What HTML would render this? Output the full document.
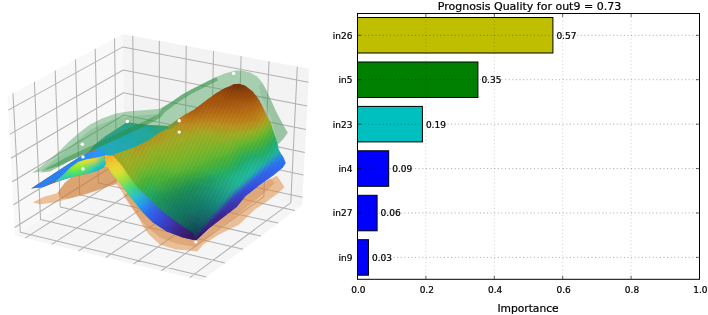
<!DOCTYPE html>
<html lang="en"><head><meta charset="utf-8"><title>Prognosis Quality</title>
<style>html,body{margin:0;padding:0;background:#fff;overflow:hidden}svg{display:block}</style></head>
<body>
<svg width="708" height="315" viewBox="0 0 708 315" font-family="'DejaVu Sans', 'Liberation Sans', sans-serif">
<rect width="708" height="315" fill="#fff"/>
<g id="panes">
<polygon points="15.1,235.6 124.5,166.4 122.7,33.9 7.5,96.4" fill="#f8f8f8"/>
<polygon points="124.5,166.4 302,205.2 309.2,68.8 122.7,33.9" fill="#f3f3f3"/>
<polygon points="15.1,235.6 201.6,280.5 302,205.2 124.5,166.4" fill="#f5f5f5"/>
<path d="M25.2 238.1 L134.1 168.5 L132.8 35.8M51.7 244.4 L159.4 174 L159.3 40.8M78.6 250.9 L185.1 179.6 L186.2 45.8M105.8 257.5 L211 185.3 L213.5 50.9M133.4 264.1 L237.3 191 L241.1 56.1M161.4 270.8 L263.8 196.8 L269 61.3M189.7 277.6 L290.8 202.7 L297.3 66.6M206.4 276.9 L20.3 232.3 L13 93.4M225 262.9 L40.6 219.5 L34.4 81.8M243.2 249.3 L60.3 207 L55.2 70.5M260.9 236 L79.6 194.8 L75.5 59.5M278.1 223.1 L98.3 183 L95.2 48.8M294.9 210.6 L116.6 171.4 L114.5 38.4M14.7 227.5 L124.4 158.7 L302.5 197.2M13.4 204.8 L124.1 137 L303.6 175M12.2 181.8 L123.8 115 L304.8 152.4M10.9 158.3 L123.5 92.7 L306 129.4M9.6 134.4 L123.2 70 L307.2 106M8.3 110.1 L122.9 46.9 L308.5 82.2" fill="none" stroke="#b2b2b2" stroke-width="1.05" stroke-linejoin="round"/>
</g>
<defs><filter id="bl" x="-5%" y="-5%" width="110%" height="110%"><feGaussianBlur stdDeviation="1.3"/></filter></defs>
<g id="surf">
<pattern id="st" width="3.6" height="8" patternUnits="userSpaceOnUse" patternTransform="rotate(24)"><rect width="1.5" height="8" fill="#000" fill-opacity="0.045"/></pattern>
<polygon points="32.6,202.4 44.1,196.7 57,193.2 60.1,189.2 64.7,183.1 70.8,177.8 78.4,174.7 95.2,172 104,166 112,166 120,172 160,180 230,200 276.9,175.7 280.9,181.6 284.4,187.2 278.9,192.5 267,201.4 255.1,209.3 238.8,224.7 219,234.5 203.2,244.4 197.2,251.4 189.3,250.4 175.5,249.4 159.7,244.4 149,234.4 143,226.5 139.1,218.6 133.2,208.7 125.3,196.9 117,184.5 110.8,185.3 101.3,189.1 87.9,193.8 72.7,197.7 53.6,202.4 40.3,204.3" fill="#e0883a" fill-opacity="0.5"/>
<polygon points="58,193 60.1,189.2 64.7,183.1 70.8,177.8 78.4,174.7 95.2,172 104,166 112,168 118.4,177.6 116.5,183.3 108.9,186.2 97.5,190 82.2,194.8 68.9,198.6 61.2,198.6" fill="#c07030" fill-opacity="0.36"/>
<polygon points="123,195 130,206 138,217 148,228 161,238 178,244 195,247 203,241 215,231 232,219 248,206 262,195 275,183 270,178 245,196.5 222.9,217.7 196.2,240.5 166.8,231.5 143,212.7 127.2,192.9" fill="#c87838" fill-opacity="0.3"/>
<polygon points="32,173 39.8,167.3 49.7,159.4 60,150.5 69.3,141.2 79.5,132.6 90,124.5 102,118.5 116,113.5 128,111.5 146,110 158,109 161.6,108.1 171.8,101.8 181.9,94.8 190.8,89.7 199.7,85.3 208.6,80.8 216.3,77 223.9,73.8 230,71.9 235.1,70.4 241.9,70.6 250.8,72.8 257.2,76.6 262.5,83 266.3,90 269,96 272,102.5 275.8,110.8 279.5,118 282.5,123.5 285,128 287.8,132.7 282.8,139.6 278.9,143.6 275.3,144 260,140 230,120 180,140 110,150 83,156 71.4,159.9 59.5,165.8 39.8,171.8" fill="#3c9a50" fill-opacity="0.42"/>
<polygon points="261.9,97.7 266.9,107.9 270.8,116.8 273.3,125 277,144.5 278.9,143.6 282.8,139.6 287.8,132.7 285,128 282.5,123.5 279.5,118 275.8,110.8 272,102.5 269,96 266.3,90 262.5,83 258.5,86" fill="#4a7a5a" fill-opacity="0.12"/>
<polygon points="40,171 50,163.5 61,155 71,146 81,137.5 91,129.5 103,123.5 116,118.5 128,116.5 146,115 158,114 150,122 130,132 107,143 84,153.5 71.4,159.9 59.5,165.8" fill="#3c9a50" fill-opacity="0.2"/>
<clipPath id="c1"><polygon points="31.1,188.5 40.3,182.4 55.5,172.5 70.8,162.5 83,154.9 90.5,150.4 92,148.1 98.1,142 105.8,135.9 118,128.3 127.1,122.2 136.3,123.7 151.5,125.3 168,126 174,122 184,115 193.4,110 201,104.3 208.6,98.6 216.3,92.9 223.9,88.4 230,85.9 233.2,84.3 239.1,83.7 245,85.6 252.9,91.6 258.9,99.5 263,107 267,116 270,120.8 273.9,132.7 277.9,144.5 278.9,150 283.8,157.9 285.8,162.9 282.8,167.8 272.9,175.7 259.1,185.6 245.3,196.5 236.8,206.9 222.9,217.7 209.1,228.6 196.2,240.5 182.6,237.4 166.8,231.5 152.9,222.6 143,212.7 135.1,202.8 127.2,192.9 121.3,185 119.6,183.1 111.9,174 105.8,164.8 102.8,167.9 95.2,171.7 86,174 75.3,176.3 64.7,179.3 55.5,182.4 43.3,187"/></clipPath><g clip-path="url(#c1)"><g filter="url(#bl)"><path fill="#783008" d="M231 82h15.4v3.4h-15.4z"/>
<path fill="#843c0c" d="M222 85h3.4v3.4h-3.4zM234 88h6.4v3.4h-6.4z"/>
<path fill="#84380c" d="M225 85h3.4v3.4h-3.4z"/>
<path fill="#803808" d="M228 85h3.4v3.4h-3.4zM243 85h3.4v3.4h-3.4z"/>
<path fill="#803408" d="M231 85h3.4v3.4h-3.4z"/>
<path fill="#7c3408" d="M234 85h9.4v3.4h-9.4z"/>
<path fill="#843808" d="M246 85h3.4v3.4h-3.4z"/>
<path fill="#90440c" d="M219 88h3.4v3.4h-3.4zM231 91h15.4v3.4h-15.4zM249 91h3.4v3.4h-3.4z"/>
<path fill="#90400c" d="M222 88h3.4v3.4h-3.4z"/>
<path fill="#8c400c" d="M225 88h6.4v3.4h-6.4zM246 88h6.4v3.4h-6.4z"/>
<path fill="#883c0c" d="M231 88h3.4v3.4h-3.4zM240 88h3.4v3.4h-3.4z"/>
<path fill="#88400c" d="M243 88h3.4v3.4h-3.4z"/>
<path fill="#98480c" d="M213 91h12.4v3.4h-12.4zM234 94h6.4v3.4h-6.4z"/>
<path fill="#94480c" d="M225 91h3.4v3.4h-3.4z"/>
<path fill="#94440c" d="M228 91h3.4v3.4h-3.4zM246 91h3.4v3.4h-3.4zM252 91h3.4v3.4h-3.4z"/>
<path fill="#a05010" d="M210 94h12.4v3.4h-12.4zM225 97h27.4v3.4h-27.4z"/>
<path fill="#9c4c10" d="M222 94h9.4v3.4h-9.4zM255 94h3.4v3.4h-3.4z"/>
<path fill="#984c0c" d="M231 94h3.4v3.4h-3.4zM240 94h15.4v3.4h-15.4z"/>
<path fill="#a45410" d="M204 97h18.4v3.4h-18.4zM252 97h6.4v3.4h-6.4zM201 100h3.4v3.4h-3.4z"/>
<path fill="#a05410" d="M222 97h3.4v3.4h-3.4z"/>
<path fill="#a85c10" d="M258 97h3.4v3.4h-3.4zM252 100h3.4v3.4h-3.4zM201 103h6.4v3.4h-6.4zM210 103h21.4v3.4h-21.4zM195 106h3.4v3.4h-3.4zM54 169h3.4v3.4h-3.4zM51 172h3.4v3.4h-3.4zM42 178h3.4v3.4h-3.4zM39 181h3.4v3.4h-3.4zM30 187h3.4v3.4h-3.4z"/>
<path fill="#a85810" d="M204 100h12.4v3.4h-12.4zM237 100h15.4v3.4h-15.4zM198 103h3.4v3.4h-3.4zM192 106h3.4v3.4h-3.4zM45 175h3.4v3.4h-3.4zM36 181h3.4v3.4h-3.4zM33 184h3.4v3.4h-3.4zM27 187h3.4v3.4h-3.4z"/>
<path fill="#a45810" d="M216 100h21.4v3.4h-21.4z"/>
<path fill="#ac6014" d="M255 100h3.4v3.4h-3.4zM240 103h9.4v3.4h-9.4zM201 106h6.4v3.4h-6.4zM210 106h15.4v3.4h-15.4zM192 109h3.4v3.4h-3.4zM72 157h3.4v3.4h-3.4zM69 160h3.4v3.4h-3.4zM66 163h3.4v3.4h-3.4zM63 166h3.4v3.4h-3.4zM60 169h3.4v3.4h-3.4zM54 172h3.4v3.4h-3.4zM51 175h3.4v3.4h-3.4zM48 178h3.4v3.4h-3.4zM45 181h3.4v3.4h-3.4zM39 184h3.4v3.4h-3.4zM36 187h3.4v3.4h-3.4z"/>
<path fill="#b06414" d="M258 100h3.4v3.4h-3.4zM252 103h3.4v3.4h-3.4zM231 106h15.4v3.4h-15.4zM198 109h3.4v3.4h-3.4zM78 154h3.4v3.4h-3.4zM75 157h3.4v3.4h-3.4zM72 160h6.4v3.4h-6.4zM69 163h6.4v3.4h-6.4zM66 166h6.4v3.4h-6.4zM63 169h3.4v3.4h-3.4zM60 172h3.4v3.4h-3.4zM57 175h3.4v3.4h-3.4zM51 178h6.4v3.4h-6.4zM48 181h3.4v3.4h-3.4zM45 184h3.4v3.4h-3.4zM39 187h6.4v3.4h-6.4z"/>
<path fill="#ac5c10" d="M207 103h3.4v3.4h-3.4zM231 103h3.4v3.4h-3.4zM63 163h3.4v3.4h-3.4zM48 175h3.4v3.4h-3.4zM36 184h3.4v3.4h-3.4z"/>
<path fill="#ac5c14" d="M234 103h6.4v3.4h-6.4zM198 106h3.4v3.4h-3.4zM189 109h3.4v3.4h-3.4zM60 166h3.4v3.4h-3.4zM57 169h3.4v3.4h-3.4zM45 178h3.4v3.4h-3.4zM42 181h3.4v3.4h-3.4zM33 187h3.4v3.4h-3.4z"/>
<path fill="#b06014" d="M249 103h3.4v3.4h-3.4zM207 106h3.4v3.4h-3.4zM225 106h6.4v3.4h-6.4zM195 109h3.4v3.4h-3.4zM57 172h3.4v3.4h-3.4zM54 175h3.4v3.4h-3.4zM42 184h3.4v3.4h-3.4z"/>
<path fill="#b46414" d="M255 103h3.4v3.4h-3.4zM201 109h3.4v3.4h-3.4zM78 157h3.4v3.4h-3.4zM66 169h3.4v3.4h-3.4zM51 181h3.4v3.4h-3.4z"/>
<path fill="#b46814" d="M258 103h3.4v3.4h-3.4zM246 106h9.4v3.4h-9.4zM204 109h36.4v3.4h-36.4zM183 112h15.4v3.4h-15.4zM87 148h3.4v3.4h-3.4zM84 151h3.4v3.4h-3.4zM81 154h3.4v3.4h-3.4zM81 157h3.4v3.4h-3.4zM78 160h3.4v3.4h-3.4zM75 163h3.4v3.4h-3.4zM72 166h3.4v3.4h-3.4zM69 169h3.4v3.4h-3.4zM63 172h6.4v3.4h-6.4zM60 175h6.4v3.4h-6.4zM57 178h3.4v3.4h-3.4zM54 181h3.4v3.4h-3.4zM48 184h6.4v3.4h-6.4z"/>
<path fill="#b87018" d="M261 103h3.4v3.4h-3.4zM258 106h3.4v3.4h-3.4zM252 109h3.4v3.4h-3.4zM207 112h3.4v3.4h-3.4zM222 112h24.4v3.4h-24.4zM186 115h9.4v3.4h-9.4zM96 139h3.4v3.4h-3.4zM93 145h3.4v3.4h-3.4zM90 151h3.4v3.4h-3.4zM90 154h3.4v3.4h-3.4zM87 157h3.4v3.4h-3.4zM84 160h3.4v3.4h-3.4zM81 163h6.4v3.4h-6.4zM78 166h6.4v3.4h-6.4zM75 169h6.4v3.4h-6.4zM72 172h3.4v3.4h-3.4zM69 175h3.4v3.4h-3.4zM66 178h3.4v3.4h-3.4z"/>
<path fill="#b86c14" d="M255 106h3.4v3.4h-3.4zM240 109h12.4v3.4h-12.4zM198 112h9.4v3.4h-9.4zM210 112h12.4v3.4h-12.4zM93 142h3.4v3.4h-3.4zM90 145h3.4v3.4h-3.4zM90 148h3.4v3.4h-3.4zM87 151h3.4v3.4h-3.4zM87 154h3.4v3.4h-3.4zM84 157h3.4v3.4h-3.4zM81 160h3.4v3.4h-3.4zM78 163h3.4v3.4h-3.4zM75 166h3.4v3.4h-3.4zM72 169h3.4v3.4h-3.4zM69 172h3.4v3.4h-3.4zM66 175h3.4v3.4h-3.4zM60 178h6.4v3.4h-6.4zM57 181h3.4v3.4h-3.4z"/>
<path fill="#bc7818" d="M261 106h3.4v3.4h-3.4zM258 109h3.4v3.4h-3.4zM252 112h3.4v3.4h-3.4zM177 115h3.4v3.4h-3.4zM201 115h45.4v3.4h-45.4zM126 121h12.4v3.4h-12.4zM108 130h3.4v3.4h-3.4zM102 136h3.4v3.4h-3.4zM99 139h3.4v3.4h-3.4zM99 142h3.4v3.4h-3.4zM96 148h3.4v3.4h-3.4zM96 151h3.4v3.4h-3.4zM93 157h3.4v3.4h-3.4zM90 160h3.4v3.4h-3.4zM90 163h3.4v3.4h-3.4zM87 166h3.4v3.4h-3.4zM84 169h3.4v3.4h-3.4zM81 172h3.4v3.4h-3.4zM75 175h6.4v3.4h-6.4z"/>
<path fill="#b87418" d="M255 109h3.4v3.4h-3.4zM246 112h6.4v3.4h-6.4zM180 115h6.4v3.4h-6.4zM195 115h6.4v3.4h-6.4zM96 142h3.4v3.4h-3.4zM93 148h3.4v3.4h-3.4zM93 151h3.4v3.4h-3.4zM90 157h3.4v3.4h-3.4zM87 160h3.4v3.4h-3.4zM75 172h3.4v3.4h-3.4zM72 175h3.4v3.4h-3.4zM69 178h3.4v3.4h-3.4z"/>
<path fill="#bc801c" d="M261 109h3.4v3.4h-3.4zM258 112h3.4v3.4h-3.4zM252 115h6.4v3.4h-6.4zM177 118h6.4v3.4h-6.4zM195 118h54.4v3.4h-54.4zM132 124h12.4v3.4h-12.4zM117 127h9.4v3.4h-9.4zM111 130h6.4v3.4h-6.4zM108 133h3.4v3.4h-3.4zM105 136h3.4v3.4h-3.4zM102 142h3.4v3.4h-3.4zM102 145h3.4v3.4h-3.4zM99 154h3.4v3.4h-3.4zM99 157h3.4v3.4h-3.4zM96 160h3.4v3.4h-3.4zM96 163h3.4v3.4h-3.4zM93 166h3.4v3.4h-3.4zM90 169h3.4v3.4h-3.4zM87 172h3.4v3.4h-3.4z"/>
<path fill="#bc841c" d="M264 109h3.4v3.4h-3.4zM261 112h3.4v3.4h-3.4zM174 118h3.4v3.4h-3.4zM249 118h6.4v3.4h-6.4zM144 124h6.4v3.4h-6.4zM126 127h18.4v3.4h-18.4zM117 130h3.4v3.4h-3.4zM111 133h3.4v3.4h-3.4zM108 136h3.4v3.4h-3.4zM105 139h3.4v3.4h-3.4zM105 142h3.4v3.4h-3.4zM102 148h3.4v3.4h-3.4zM102 151h3.4v3.4h-3.4zM102 154h3.4v3.4h-3.4zM102 157h3.4v3.4h-3.4zM99 160h3.4v3.4h-3.4zM99 163h3.4v3.4h-3.4zM96 166h3.4v3.4h-3.4zM93 169h3.4v3.4h-3.4zM90 172h3.4v3.4h-3.4z"/>
<path fill="#bc7c18" d="M255 112h3.4v3.4h-3.4zM246 115h6.4v3.4h-6.4zM186 118h6.4v3.4h-6.4zM138 121h3.4v3.4h-3.4zM120 124h6.4v3.4h-6.4zM114 127h3.4v3.4h-3.4zM105 133h3.4v3.4h-3.4zM99 145h3.4v3.4h-3.4zM96 154h3.4v3.4h-3.4zM93 160h3.4v3.4h-3.4z"/>
<path fill="#bc8c20" d="M264 112h3.4v3.4h-3.4zM261 115h3.4v3.4h-3.4zM258 118h3.4v3.4h-3.4zM174 121h3.4v3.4h-3.4zM198 121h21.4v3.4h-21.4zM246 121h6.4v3.4h-6.4zM153 124h6.4v3.4h-6.4zM150 127h6.4v3.4h-6.4zM144 130h6.4v3.4h-6.4zM117 133h30.4v3.4h-30.4zM114 136h3.4v3.4h-3.4zM108 142h3.4v3.4h-3.4zM105 157h3.4v3.4h-3.4zM105 160h3.4v3.4h-3.4zM105 163h3.4v3.4h-3.4zM102 166h3.4v3.4h-3.4zM99 169h3.4v3.4h-3.4z"/>
<path fill="#bc881c" d="M258 115h3.4v3.4h-3.4zM255 118h3.4v3.4h-3.4zM177 121h21.4v3.4h-21.4zM219 121h27.4v3.4h-27.4zM150 124h3.4v3.4h-3.4zM144 127h6.4v3.4h-6.4zM120 130h24.4v3.4h-24.4zM114 133h3.4v3.4h-3.4zM111 136h3.4v3.4h-3.4zM108 139h3.4v3.4h-3.4zM105 145h3.4v3.4h-3.4zM105 148h3.4v3.4h-3.4zM105 151h3.4v3.4h-3.4zM105 154h3.4v3.4h-3.4zM102 160h3.4v3.4h-3.4zM102 163h3.4v3.4h-3.4zM99 166h3.4v3.4h-3.4zM96 169h3.4v3.4h-3.4zM93 172h3.4v3.4h-3.4z"/>
<path fill="#b89420" d="M264 115h3.4v3.4h-3.4zM198 124h12.4v3.4h-12.4zM249 124h3.4v3.4h-3.4zM159 127h3.4v3.4h-3.4zM132 139h3.4v3.4h-3.4z"/>
<path fill="#b0a024" d="M267 115h3.4v3.4h-3.4zM264 118h3.4v3.4h-3.4zM261 121h3.4v3.4h-3.4zM165 127h9.4v3.4h-9.4zM195 127h18.4v3.4h-18.4zM246 127h3.4v3.4h-3.4zM177 130h9.4v3.4h-9.4zM162 133h3.4v3.4h-3.4zM162 136h3.4v3.4h-3.4zM153 139h6.4v3.4h-6.4zM117 142h6.4v3.4h-6.4zM126 142h3.4v3.4h-3.4zM147 142h3.4v3.4h-3.4zM114 145h3.4v3.4h-3.4zM132 145h3.4v3.4h-3.4zM114 160h3.4v3.4h-3.4zM114 163h3.4v3.4h-3.4zM111 169h3.4v3.4h-3.4z"/>
<path fill="#bc7c1c" d="M183 118h3.4v3.4h-3.4zM192 118h3.4v3.4h-3.4zM141 121h3.4v3.4h-3.4zM126 124h6.4v3.4h-6.4zM102 139h3.4v3.4h-3.4zM99 148h3.4v3.4h-3.4zM99 151h3.4v3.4h-3.4zM96 157h3.4v3.4h-3.4zM93 163h3.4v3.4h-3.4zM90 166h3.4v3.4h-3.4zM87 169h3.4v3.4h-3.4zM84 172h3.4v3.4h-3.4zM81 175h3.4v3.4h-3.4z"/>
<path fill="#bc9420" d="M261 118h3.4v3.4h-3.4zM174 124h3.4v3.4h-3.4zM192 124h6.4v3.4h-6.4zM210 124h24.4v3.4h-24.4zM240 124h9.4v3.4h-9.4zM156 130h3.4v3.4h-3.4zM153 133h3.4v3.4h-3.4zM120 136h12.4v3.4h-12.4zM147 136h3.4v3.4h-3.4zM114 139h3.4v3.4h-3.4zM135 139h9.4v3.4h-9.4zM111 142h3.4v3.4h-3.4zM108 163h3.4v3.4h-3.4z"/>
<path fill="#a4ac28" d="M267 118h3.4v3.4h-3.4zM261 124h3.4v3.4h-3.4zM246 130h3.4v3.4h-3.4zM192 133h6.4v3.4h-6.4zM174 136h12.4v3.4h-12.4zM168 139h6.4v3.4h-6.4zM165 142h3.4v3.4h-3.4zM150 145h3.4v3.4h-3.4zM123 148h3.4v3.4h-3.4zM117 151h3.4v3.4h-3.4zM126 151h3.4v3.4h-3.4zM117 154h3.4v3.4h-3.4zM129 154h12.4v3.4h-12.4zM120 160h3.4v3.4h-3.4zM120 163h3.4v3.4h-3.4zM120 166h3.4v3.4h-3.4zM120 169h3.4v3.4h-3.4zM117 172h3.4v3.4h-3.4zM114 175h3.4v3.4h-3.4z"/>
<path fill="#98b028" d="M270 118h3.4v3.4h-3.4zM267 121h3.4v3.4h-3.4zM264 124h3.4v3.4h-3.4zM243 133h3.4v3.4h-3.4zM201 136h30.4v3.4h-30.4zM189 139h6.4v3.4h-6.4zM180 142h6.4v3.4h-6.4zM171 145h6.4v3.4h-6.4zM153 148h15.4v3.4h-15.4zM150 151h3.4v3.4h-3.4zM147 154h3.4v3.4h-3.4zM144 157h3.4v3.4h-3.4zM138 160h3.4v3.4h-3.4zM132 163h3.4v3.4h-3.4zM129 166h3.4v3.4h-3.4zM126 169h3.4v3.4h-3.4zM120 175h3.4v3.4h-3.4zM117 178h3.4v3.4h-3.4z"/>
<path fill="#bc7418" d="M123 121h3.4v3.4h-3.4zM96 145h3.4v3.4h-3.4zM93 154h3.4v3.4h-3.4zM87 163h3.4v3.4h-3.4zM84 166h3.4v3.4h-3.4zM81 169h3.4v3.4h-3.4zM78 172h3.4v3.4h-3.4z"/>
<path fill="#bc9020" d="M171 121h3.4v3.4h-3.4zM252 121h6.4v3.4h-6.4zM159 124h3.4v3.4h-3.4zM177 124h15.4v3.4h-15.4zM234 124h6.4v3.4h-6.4zM156 127h3.4v3.4h-3.4zM150 130h6.4v3.4h-6.4zM147 133h6.4v3.4h-6.4zM117 136h3.4v3.4h-3.4zM132 136h15.4v3.4h-15.4zM111 139h3.4v3.4h-3.4zM108 145h3.4v3.4h-3.4zM108 148h3.4v3.4h-3.4zM108 151h3.4v3.4h-3.4zM108 154h3.4v3.4h-3.4zM108 157h3.4v3.4h-3.4zM108 160h3.4v3.4h-3.4zM105 166h3.4v3.4h-3.4z"/>
<path fill="#b89820" d="M258 121h3.4v3.4h-3.4zM162 124h3.4v3.4h-3.4zM171 124h3.4v3.4h-3.4zM180 127h6.4v3.4h-6.4zM159 130h3.4v3.4h-3.4zM156 133h3.4v3.4h-3.4zM150 136h6.4v3.4h-6.4zM117 139h3.4v3.4h-3.4zM129 139h3.4v3.4h-3.4zM144 139h3.4v3.4h-3.4zM135 142h9.4v3.4h-9.4zM111 145h3.4v3.4h-3.4zM108 166h3.4v3.4h-3.4z"/>
<path fill="#a4a828" d="M264 121h3.4v3.4h-3.4zM255 127h3.4v3.4h-3.4zM243 130h3.4v3.4h-3.4zM189 133h3.4v3.4h-3.4zM171 136h3.4v3.4h-3.4zM162 142h3.4v3.4h-3.4zM117 148h3.4v3.4h-3.4zM126 148h3.4v3.4h-3.4zM129 151h3.4v3.4h-3.4zM141 151h3.4v3.4h-3.4z"/>
<path fill="#88b42c" d="M270 121h3.4v3.4h-3.4zM267 124h3.4v3.4h-3.4zM252 133h3.4v3.4h-3.4zM243 136h3.4v3.4h-3.4zM231 139h3.4v3.4h-3.4zM207 142h15.4v3.4h-15.4zM195 145h6.4v3.4h-6.4zM189 148h6.4v3.4h-6.4zM180 151h6.4v3.4h-6.4zM168 154h9.4v3.4h-9.4zM153 157h6.4v3.4h-6.4zM150 160h3.4v3.4h-3.4zM144 163h3.4v3.4h-3.4zM138 166h3.4v3.4h-3.4zM132 172h3.4v3.4h-3.4zM129 175h3.4v3.4h-3.4zM120 181h3.4v3.4h-3.4z"/>
<path fill="#b49824" d="M165 124h3.4v3.4h-3.4zM177 127h3.4v3.4h-3.4zM186 127h3.4v3.4h-3.4zM159 133h3.4v3.4h-3.4zM156 136h3.4v3.4h-3.4zM126 139h3.4v3.4h-3.4zM147 139h3.4v3.4h-3.4zM114 142h3.4v3.4h-3.4zM111 148h3.4v3.4h-3.4zM111 154h3.4v3.4h-3.4zM111 163h3.4v3.4h-3.4zM108 169h3.4v3.4h-3.4z"/>
<path fill="#b49c24" d="M168 124h3.4v3.4h-3.4zM162 127h3.4v3.4h-3.4zM174 127h3.4v3.4h-3.4zM189 127h3.4v3.4h-3.4zM216 127h27.4v3.4h-27.4zM159 136h3.4v3.4h-3.4zM120 139h6.4v3.4h-6.4zM150 139h3.4v3.4h-3.4zM132 142h3.4v3.4h-3.4zM144 142h3.4v3.4h-3.4zM138 145h3.4v3.4h-3.4zM111 151h3.4v3.4h-3.4zM111 166h3.4v3.4h-3.4zM108 172h3.4v3.4h-3.4z"/>
<path fill="#b89824" d="M252 124h3.4v3.4h-3.4zM111 157h3.4v3.4h-3.4zM111 160h3.4v3.4h-3.4z"/>
<path fill="#b09c24" d="M255 124h3.4v3.4h-3.4zM192 127h3.4v3.4h-3.4zM213 127h3.4v3.4h-3.4zM243 127h3.4v3.4h-3.4zM162 130h3.4v3.4h-3.4zM129 142h3.4v3.4h-3.4zM135 145h3.4v3.4h-3.4zM141 145h3.4v3.4h-3.4z"/>
<path fill="#aca424" d="M258 124h3.4v3.4h-3.4zM168 130h6.4v3.4h-6.4zM189 130h3.4v3.4h-3.4zM165 133h3.4v3.4h-3.4zM165 136h3.4v3.4h-3.4zM162 139h3.4v3.4h-3.4zM150 142h3.4v3.4h-3.4zM117 145h3.4v3.4h-3.4zM129 145h3.4v3.4h-3.4zM144 145h3.4v3.4h-3.4zM114 148h3.4v3.4h-3.4zM132 148h3.4v3.4h-3.4zM141 148h3.4v3.4h-3.4zM114 151h3.4v3.4h-3.4zM114 154h3.4v3.4h-3.4zM114 169h3.4v3.4h-3.4z"/>
<path fill="#78b82c" d="M270 124h3.4v3.4h-3.4zM252 136h3.4v3.4h-3.4zM243 139h3.4v3.4h-3.4zM234 142h3.4v3.4h-3.4zM225 145h3.4v3.4h-3.4zM210 148h6.4v3.4h-6.4zM201 151h6.4v3.4h-6.4zM192 154h6.4v3.4h-6.4zM183 157h6.4v3.4h-6.4zM177 160h3.4v3.4h-3.4zM156 163h3.4v3.4h-3.4zM150 166h3.4v3.4h-3.4zM141 169h3.4v3.4h-3.4zM123 184h3.4v3.4h-3.4zM120 187h3.4v3.4h-3.4z"/>
<path fill="#aca024" d="M249 127h3.4v3.4h-3.4zM165 130h3.4v3.4h-3.4zM174 130h3.4v3.4h-3.4zM186 130h3.4v3.4h-3.4zM159 139h3.4v3.4h-3.4zM123 142h3.4v3.4h-3.4zM135 148h6.4v3.4h-6.4zM114 157h3.4v3.4h-3.4zM114 166h3.4v3.4h-3.4zM111 172h3.4v3.4h-3.4z"/>
<path fill="#a8a424" d="M252 127h3.4v3.4h-3.4zM192 130h3.4v3.4h-3.4zM216 130h21.4v3.4h-21.4zM168 133h3.4v3.4h-3.4zM177 133h6.4v3.4h-6.4zM153 142h3.4v3.4h-3.4zM126 145h3.4v3.4h-3.4zM111 175h3.4v3.4h-3.4z"/>
<path fill="#a0b028" d="M258 127h3.4v3.4h-3.4zM249 130h3.4v3.4h-3.4zM201 133h9.4v3.4h-9.4zM228 133h9.4v3.4h-9.4zM189 136h3.4v3.4h-3.4zM177 139h6.4v3.4h-6.4zM168 142h6.4v3.4h-6.4zM159 145h6.4v3.4h-6.4zM147 148h3.4v3.4h-3.4zM120 151h6.4v3.4h-6.4zM120 154h9.4v3.4h-9.4zM123 157h9.4v3.4h-9.4zM135 157h6.4v3.4h-6.4zM123 160h9.4v3.4h-9.4zM126 163h3.4v3.4h-3.4zM123 166h3.4v3.4h-3.4zM123 169h3.4v3.4h-3.4zM120 172h3.4v3.4h-3.4zM117 175h3.4v3.4h-3.4zM114 178h3.4v3.4h-3.4z"/>
<path fill="#94b428" d="M261 127h3.4v3.4h-3.4zM246 133h3.4v3.4h-3.4zM198 139h6.4v3.4h-6.4zM189 142h3.4v3.4h-3.4zM180 145h3.4v3.4h-3.4zM174 148h3.4v3.4h-3.4zM153 151h9.4v3.4h-9.4zM150 154h3.4v3.4h-3.4zM147 157h3.4v3.4h-3.4zM144 160h3.4v3.4h-3.4zM132 166h3.4v3.4h-3.4zM123 175h3.4v3.4h-3.4zM120 178h3.4v3.4h-3.4z"/>
<path fill="#84b42c" d="M264 127h3.4v3.4h-3.4zM234 139h3.4v3.4h-3.4zM222 142h3.4v3.4h-3.4zM201 145h6.4v3.4h-6.4zM186 151h3.4v3.4h-3.4zM177 154h3.4v3.4h-3.4zM159 157h6.4v3.4h-6.4zM147 163h3.4v3.4h-3.4zM135 169h3.4v3.4h-3.4zM126 178h3.4v3.4h-3.4z"/>
<path fill="#74b82c" d="M267 127h3.4v3.4h-3.4zM228 145h3.4v3.4h-3.4zM216 148h3.4v3.4h-3.4zM198 154h3.4v3.4h-3.4zM189 157h3.4v3.4h-3.4zM180 160h3.4v3.4h-3.4zM159 163h3.4v3.4h-3.4zM165 163h6.4v3.4h-6.4z"/>
<path fill="#68b834" d="M270 127h3.4v3.4h-3.4zM252 139h3.4v3.4h-3.4zM243 142h3.4v3.4h-3.4zM222 151h3.4v3.4h-3.4zM204 157h3.4v3.4h-3.4zM186 163h3.4v3.4h-3.4zM144 172h3.4v3.4h-3.4zM126 187h3.4v3.4h-3.4z"/>
<path fill="#58b438" d="M273 127h3.4v3.4h-3.4zM270 130h3.4v3.4h-3.4zM267 133h3.4v3.4h-3.4zM258 139h3.4v3.4h-3.4zM252 142h3.4v3.4h-3.4zM243 145h3.4v3.4h-3.4zM231 151h3.4v3.4h-3.4zM225 154h3.4v3.4h-3.4zM216 157h3.4v3.4h-3.4zM207 160h3.4v3.4h-3.4zM201 163h3.4v3.4h-3.4zM192 166h3.4v3.4h-3.4zM183 169h3.4v3.4h-3.4zM159 172h18.4v3.4h-18.4zM147 175h3.4v3.4h-3.4zM141 178h3.4v3.4h-3.4zM138 181h3.4v3.4h-3.4z"/>
<path fill="#a8a824" d="M195 130h6.4v3.4h-6.4zM207 130h9.4v3.4h-9.4zM237 130h3.4v3.4h-3.4zM171 133h6.4v3.4h-6.4zM183 133h3.4v3.4h-3.4zM156 142h3.4v3.4h-3.4zM123 145h3.4v3.4h-3.4zM129 148h3.4v3.4h-3.4zM132 151h9.4v3.4h-9.4zM117 160h3.4v3.4h-3.4zM117 163h3.4v3.4h-3.4zM117 166h3.4v3.4h-3.4zM114 172h3.4v3.4h-3.4z"/>
<path fill="#a8a828" d="M201 130h6.4v3.4h-6.4zM240 130h3.4v3.4h-3.4zM186 133h3.4v3.4h-3.4zM168 136h3.4v3.4h-3.4zM165 139h3.4v3.4h-3.4zM159 142h3.4v3.4h-3.4zM120 145h3.4v3.4h-3.4zM147 145h3.4v3.4h-3.4zM144 148h3.4v3.4h-3.4zM117 157h3.4v3.4h-3.4zM117 169h3.4v3.4h-3.4z"/>
<path fill="#9cb028" d="M252 130h3.4v3.4h-3.4zM237 133h6.4v3.4h-6.4zM192 136h9.4v3.4h-9.4zM183 139h6.4v3.4h-6.4zM174 142h6.4v3.4h-6.4zM165 145h6.4v3.4h-6.4zM150 148h3.4v3.4h-3.4zM147 151h3.4v3.4h-3.4zM144 154h3.4v3.4h-3.4zM141 157h3.4v3.4h-3.4zM132 160h6.4v3.4h-6.4zM129 163h3.4v3.4h-3.4zM126 166h3.4v3.4h-3.4zM123 172h3.4v3.4h-3.4z"/>
<path fill="#94b028" d="M255 130h3.4v3.4h-3.4zM231 136h3.4v3.4h-3.4zM195 139h3.4v3.4h-3.4zM186 142h3.4v3.4h-3.4zM177 145h3.4v3.4h-3.4zM168 148h6.4v3.4h-6.4zM141 160h3.4v3.4h-3.4zM135 163h3.4v3.4h-3.4zM129 169h3.4v3.4h-3.4zM126 172h3.4v3.4h-3.4z"/>
<path fill="#8cb42c" d="M258 130h3.4v3.4h-3.4zM240 136h3.4v3.4h-3.4zM225 139h6.4v3.4h-6.4zM198 142h9.4v3.4h-9.4zM189 145h6.4v3.4h-6.4zM183 148h6.4v3.4h-6.4zM174 151h6.4v3.4h-6.4zM156 154h12.4v3.4h-12.4zM150 157h3.4v3.4h-3.4zM147 160h3.4v3.4h-3.4zM141 163h3.4v3.4h-3.4zM135 166h3.4v3.4h-3.4zM132 169h3.4v3.4h-3.4zM123 178h3.4v3.4h-3.4z"/>
<path fill="#80b82c" d="M261 130h3.4v3.4h-3.4zM237 139h3.4v3.4h-3.4zM228 142h3.4v3.4h-3.4zM210 145h9.4v3.4h-9.4zM198 148h6.4v3.4h-6.4zM192 151h3.4v3.4h-3.4zM183 154h6.4v3.4h-6.4zM174 157h6.4v3.4h-6.4zM156 160h3.4v3.4h-3.4zM150 163h3.4v3.4h-3.4zM144 166h3.4v3.4h-3.4zM132 175h3.4v3.4h-3.4zM120 184h3.4v3.4h-3.4z"/>
<path fill="#74b830" d="M264 130h3.4v3.4h-3.4zM219 148h3.4v3.4h-3.4zM207 151h3.4v3.4h-3.4zM201 154h3.4v3.4h-3.4zM192 157h3.4v3.4h-3.4zM183 160h3.4v3.4h-3.4zM162 163h3.4v3.4h-3.4zM171 163h6.4v3.4h-6.4zM153 166h3.4v3.4h-3.4zM144 169h3.4v3.4h-3.4zM138 172h3.4v3.4h-3.4zM135 175h3.4v3.4h-3.4zM132 178h3.4v3.4h-3.4zM129 181h3.4v3.4h-3.4z"/>
<path fill="#64b834" d="M267 130h3.4v3.4h-3.4zM264 133h3.4v3.4h-3.4zM237 145h3.4v3.4h-3.4zM231 148h3.4v3.4h-3.4zM225 151h3.4v3.4h-3.4zM213 154h6.4v3.4h-6.4zM207 157h3.4v3.4h-3.4zM198 160h3.4v3.4h-3.4zM189 163h3.4v3.4h-3.4zM180 166h3.4v3.4h-3.4zM156 169h6.4v3.4h-6.4zM168 169h6.4v3.4h-6.4zM147 172h3.4v3.4h-3.4zM123 190h3.4v3.4h-3.4z"/>
<path fill="#48b43c" d="M273 130h3.4v3.4h-3.4zM270 133h3.4v3.4h-3.4zM267 136h3.4v3.4h-3.4zM264 139h3.4v3.4h-3.4zM252 145h3.4v3.4h-3.4zM243 148h3.4v3.4h-3.4zM237 151h3.4v3.4h-3.4zM228 157h3.4v3.4h-3.4zM219 160h3.4v3.4h-3.4zM213 163h3.4v3.4h-3.4zM204 166h3.4v3.4h-3.4zM195 169h3.4v3.4h-3.4zM156 178h9.4v3.4h-9.4zM144 181h3.4v3.4h-3.4z"/>
<path fill="#a0ac28" d="M198 133h3.4v3.4h-3.4zM210 133h18.4v3.4h-18.4zM186 136h3.4v3.4h-3.4zM174 139h3.4v3.4h-3.4zM153 145h6.4v3.4h-6.4zM120 148h3.4v3.4h-3.4zM144 151h3.4v3.4h-3.4zM141 154h3.4v3.4h-3.4zM120 157h3.4v3.4h-3.4zM132 157h3.4v3.4h-3.4zM123 163h3.4v3.4h-3.4z"/>
<path fill="#90b42c" d="M249 133h3.4v3.4h-3.4zM237 136h3.4v3.4h-3.4zM219 139h6.4v3.4h-6.4zM195 142h3.4v3.4h-3.4zM186 145h3.4v3.4h-3.4zM180 148h3.4v3.4h-3.4zM168 151h6.4v3.4h-6.4zM153 154h3.4v3.4h-3.4zM129 172h3.4v3.4h-3.4zM126 175h3.4v3.4h-3.4z"/>
<path fill="#84b82c" d="M255 133h3.4v3.4h-3.4zM246 136h3.4v3.4h-3.4zM225 142h3.4v3.4h-3.4zM207 145h3.4v3.4h-3.4zM195 148h3.4v3.4h-3.4zM189 151h3.4v3.4h-3.4zM180 154h3.4v3.4h-3.4zM165 157h9.4v3.4h-9.4zM153 160h3.4v3.4h-3.4zM141 166h3.4v3.4h-3.4zM123 181h3.4v3.4h-3.4z"/>
<path fill="#7cb82c" d="M258 133h3.4v3.4h-3.4zM249 136h3.4v3.4h-3.4zM240 139h3.4v3.4h-3.4zM231 142h3.4v3.4h-3.4zM219 145h6.4v3.4h-6.4zM204 148h6.4v3.4h-6.4zM195 151h6.4v3.4h-6.4zM189 154h3.4v3.4h-3.4zM180 157h3.4v3.4h-3.4zM159 160h18.4v3.4h-18.4zM153 163h3.4v3.4h-3.4zM147 166h3.4v3.4h-3.4zM138 169h3.4v3.4h-3.4zM135 172h3.4v3.4h-3.4zM129 178h3.4v3.4h-3.4zM126 181h3.4v3.4h-3.4z"/>
<path fill="#70b830" d="M261 133h3.4v3.4h-3.4zM255 136h3.4v3.4h-3.4zM246 139h3.4v3.4h-3.4zM237 142h3.4v3.4h-3.4zM231 145h3.4v3.4h-3.4zM222 148h6.4v3.4h-6.4zM210 151h6.4v3.4h-6.4zM204 154h3.4v3.4h-3.4zM195 157h3.4v3.4h-3.4zM186 160h3.4v3.4h-3.4zM177 163h3.4v3.4h-3.4zM156 166h3.4v3.4h-3.4zM147 169h3.4v3.4h-3.4zM126 184h3.4v3.4h-3.4zM123 187h3.4v3.4h-3.4z"/>
<path fill="#3cb448" d="M273 133h3.4v3.4h-3.4zM264 142h3.4v3.4h-3.4zM237 154h3.4v3.4h-3.4zM222 163h3.4v3.4h-3.4zM207 169h3.4v3.4h-3.4zM147 184h3.4v3.4h-3.4zM141 187h3.4v3.4h-3.4zM132 196h3.4v3.4h-3.4z"/>
<path fill="#90b428" d="M234 136h3.4v3.4h-3.4zM204 139h15.4v3.4h-15.4zM192 142h3.4v3.4h-3.4zM183 145h3.4v3.4h-3.4zM177 148h3.4v3.4h-3.4zM162 151h6.4v3.4h-6.4zM138 163h3.4v3.4h-3.4zM117 181h3.4v3.4h-3.4z"/>
<path fill="#68b830" d="M258 136h3.4v3.4h-3.4zM219 151h3.4v3.4h-3.4zM210 154h3.4v3.4h-3.4zM195 160h3.4v3.4h-3.4zM177 166h3.4v3.4h-3.4zM153 169h3.4v3.4h-3.4zM138 175h3.4v3.4h-3.4zM135 178h3.4v3.4h-3.4zM132 181h3.4v3.4h-3.4zM129 184h3.4v3.4h-3.4z"/>
<path fill="#60b834" d="M261 136h3.4v3.4h-3.4zM255 139h3.4v3.4h-3.4zM246 142h3.4v3.4h-3.4zM228 151h3.4v3.4h-3.4zM219 154h3.4v3.4h-3.4zM210 157h3.4v3.4h-3.4zM201 160h3.4v3.4h-3.4zM192 163h6.4v3.4h-6.4zM183 166h6.4v3.4h-6.4zM162 169h6.4v3.4h-6.4zM174 169h6.4v3.4h-6.4zM150 172h6.4v3.4h-6.4zM141 175h3.4v3.4h-3.4zM138 178h3.4v3.4h-3.4zM135 181h3.4v3.4h-3.4zM132 184h3.4v3.4h-3.4z"/>
<path fill="#54b438" d="M264 136h3.4v3.4h-3.4zM237 148h3.4v3.4h-3.4zM228 154h3.4v3.4h-3.4zM219 157h3.4v3.4h-3.4zM210 160h3.4v3.4h-3.4zM204 163h3.4v3.4h-3.4zM195 166h3.4v3.4h-3.4zM186 169h3.4v3.4h-3.4zM177 172h3.4v3.4h-3.4zM150 175h9.4v3.4h-9.4zM135 184h3.4v3.4h-3.4zM132 187h3.4v3.4h-3.4zM129 190h3.4v3.4h-3.4zM126 193h3.4v3.4h-3.4z"/>
<path fill="#40b448" d="M270 136h3.4v3.4h-3.4zM258 145h3.4v3.4h-3.4zM249 148h3.4v3.4h-3.4zM228 160h3.4v3.4h-3.4zM213 166h3.4v3.4h-3.4z"/>
<path fill="#34b058" d="M273 136h3.4v3.4h-3.4zM264 145h3.4v3.4h-3.4zM249 151h3.4v3.4h-3.4zM225 166h3.4v3.4h-3.4zM135 199h3.4v3.4h-3.4z"/>
<path fill="#28b064" d="M276 136h3.4v3.4h-3.4zM273 139h3.4v3.4h-3.4zM219 172h3.4v3.4h-3.4z"/>
<path fill="#6cb830" d="M249 139h3.4v3.4h-3.4zM240 142h3.4v3.4h-3.4zM234 145h3.4v3.4h-3.4zM228 148h3.4v3.4h-3.4zM216 151h3.4v3.4h-3.4zM207 154h3.4v3.4h-3.4zM198 157h6.4v3.4h-6.4zM189 160h6.4v3.4h-6.4zM180 163h6.4v3.4h-6.4zM159 166h18.4v3.4h-18.4zM150 169h3.4v3.4h-3.4zM141 172h3.4v3.4h-3.4z"/>
<path fill="#50b438" d="M261 139h3.4v3.4h-3.4zM255 142h3.4v3.4h-3.4zM246 145h3.4v3.4h-3.4zM234 151h3.4v3.4h-3.4zM222 157h3.4v3.4h-3.4zM213 160h3.4v3.4h-3.4zM207 163h3.4v3.4h-3.4zM198 166h3.4v3.4h-3.4zM189 169h3.4v3.4h-3.4zM159 175h12.4v3.4h-12.4zM144 178h3.4v3.4h-3.4z"/>
<path fill="#40b444" d="M267 139h3.4v3.4h-3.4zM240 151h3.4v3.4h-3.4zM231 157h3.4v3.4h-3.4zM219 163h3.4v3.4h-3.4zM210 166h3.4v3.4h-3.4zM204 169h3.4v3.4h-3.4zM144 184h3.4v3.4h-3.4z"/>
<path fill="#34b054" d="M270 139h3.4v3.4h-3.4zM267 142h3.4v3.4h-3.4zM258 148h3.4v3.4h-3.4zM237 157h3.4v3.4h-3.4zM234 160h3.4v3.4h-3.4zM222 166h3.4v3.4h-3.4zM216 169h3.4v3.4h-3.4zM147 187h6.4v3.4h-6.4zM141 190h3.4v3.4h-3.4zM138 193h3.4v3.4h-3.4zM132 202h3.4v3.4h-3.4z"/>
<path fill="#24b078" d="M276 139h3.4v3.4h-3.4zM252 157h3.4v3.4h-3.4zM234 169h3.4v3.4h-3.4zM225 175h3.4v3.4h-3.4z"/>
<path fill="#5cb834" d="M249 142h3.4v3.4h-3.4zM240 145h3.4v3.4h-3.4zM234 148h3.4v3.4h-3.4zM222 154h3.4v3.4h-3.4zM213 157h3.4v3.4h-3.4zM204 160h3.4v3.4h-3.4zM198 163h3.4v3.4h-3.4zM189 166h3.4v3.4h-3.4zM180 169h3.4v3.4h-3.4zM156 172h3.4v3.4h-3.4zM144 175h3.4v3.4h-3.4zM129 187h3.4v3.4h-3.4zM126 190h3.4v3.4h-3.4z"/>
<path fill="#4cb43c" d="M258 142h3.4v3.4h-3.4zM249 145h3.4v3.4h-3.4zM231 154h3.4v3.4h-3.4zM225 157h3.4v3.4h-3.4zM210 163h3.4v3.4h-3.4zM201 166h3.4v3.4h-3.4zM150 178h6.4v3.4h-6.4zM138 184h3.4v3.4h-3.4zM135 187h3.4v3.4h-3.4zM132 190h3.4v3.4h-3.4zM129 193h3.4v3.4h-3.4z"/>
<path fill="#44b440" d="M261 142h3.4v3.4h-3.4zM255 145h3.4v3.4h-3.4zM246 148h3.4v3.4h-3.4zM234 154h3.4v3.4h-3.4zM225 160h3.4v3.4h-3.4zM216 163h3.4v3.4h-3.4zM207 166h3.4v3.4h-3.4zM201 169h3.4v3.4h-3.4zM147 181h12.4v3.4h-12.4zM141 184h3.4v3.4h-3.4zM138 187h3.4v3.4h-3.4zM135 190h3.4v3.4h-3.4zM132 193h3.4v3.4h-3.4zM129 196h3.4v3.4h-3.4z"/>
<path fill="#2cb060" d="M270 142h3.4v3.4h-3.4zM267 145h3.4v3.4h-3.4zM240 157h3.4v3.4h-3.4zM237 160h3.4v3.4h-3.4zM234 163h3.4v3.4h-3.4zM216 172h3.4v3.4h-3.4zM141 196h3.4v3.4h-3.4zM138 199h3.4v3.4h-3.4zM135 205h3.4v3.4h-3.4z"/>
<path fill="#24b074" d="M273 142h3.4v3.4h-3.4zM261 154h3.4v3.4h-3.4zM249 157h3.4v3.4h-3.4zM243 160h3.4v3.4h-3.4zM240 163h3.4v3.4h-3.4zM237 166h3.4v3.4h-3.4zM228 172h3.4v3.4h-3.4zM222 175h3.4v3.4h-3.4z"/>
<path fill="#24b488" d="M276 142h3.4v3.4h-3.4zM273 148h3.4v3.4h-3.4zM264 157h3.4v3.4h-3.4zM255 160h3.4v3.4h-3.4zM246 163h3.4v3.4h-3.4zM243 166h3.4v3.4h-3.4zM240 169h3.4v3.4h-3.4zM237 172h3.4v3.4h-3.4z"/>
<path fill="#38b44c" d="M261 145h3.4v3.4h-3.4zM231 160h3.4v3.4h-3.4zM210 169h3.4v3.4h-3.4z"/>
<path fill="#24b070" d="M270 145h3.4v3.4h-3.4zM264 151h3.4v3.4h-3.4zM258 154h3.4v3.4h-3.4zM246 157h3.4v3.4h-3.4zM231 169h3.4v3.4h-3.4z"/>
<path fill="#24b480" d="M273 145h3.4v3.4h-3.4zM258 157h3.4v3.4h-3.4zM243 163h3.4v3.4h-3.4zM240 166h3.4v3.4h-3.4zM237 169h3.4v3.4h-3.4z"/>
<path fill="#24b890" d="M276 145h3.4v3.4h-3.4zM261 160h3.4v3.4h-3.4zM252 163h3.4v3.4h-3.4zM246 166h3.4v3.4h-3.4zM243 169h3.4v3.4h-3.4zM240 172h3.4v3.4h-3.4zM237 175h3.4v3.4h-3.4zM234 178h3.4v3.4h-3.4z"/>
<path fill="#4cb438" d="M240 148h3.4v3.4h-3.4zM216 160h3.4v3.4h-3.4zM192 169h3.4v3.4h-3.4zM147 178h3.4v3.4h-3.4zM141 181h3.4v3.4h-3.4z"/>
<path fill="#3cb44c" d="M252 148h3.4v3.4h-3.4zM243 151h3.4v3.4h-3.4zM234 157h3.4v3.4h-3.4zM225 163h3.4v3.4h-3.4zM216 166h3.4v3.4h-3.4zM150 184h3.4v3.4h-3.4zM138 190h3.4v3.4h-3.4zM135 193h3.4v3.4h-3.4z"/>
<path fill="#38b450" d="M255 148h3.4v3.4h-3.4zM219 166h3.4v3.4h-3.4zM132 199h3.4v3.4h-3.4z"/>
<path fill="#30b05c" d="M261 148h3.4v3.4h-3.4zM252 151h6.4v3.4h-6.4zM243 154h3.4v3.4h-3.4zM228 166h3.4v3.4h-3.4zM213 172h3.4v3.4h-3.4zM144 190h3.4v3.4h-3.4zM141 193h3.4v3.4h-3.4zM138 196h3.4v3.4h-3.4zM135 202h3.4v3.4h-3.4z"/>
<path fill="#2cb064" d="M264 148h3.4v3.4h-3.4zM258 151h3.4v3.4h-3.4zM246 154h3.4v3.4h-3.4zM231 166h3.4v3.4h-3.4zM225 169h3.4v3.4h-3.4z"/>
<path fill="#24b06c" d="M267 148h3.4v3.4h-3.4zM255 154h3.4v3.4h-3.4zM234 166h3.4v3.4h-3.4zM225 172h3.4v3.4h-3.4z"/>
<path fill="#24b47c" d="M270 148h3.4v3.4h-3.4zM267 151h3.4v3.4h-3.4zM264 154h3.4v3.4h-3.4zM255 157h3.4v3.4h-3.4zM246 160h3.4v3.4h-3.4zM231 172h3.4v3.4h-3.4zM228 175h3.4v3.4h-3.4z"/>
<path fill="#24b898" d="M276 148h3.4v3.4h-3.4zM252 166h3.4v3.4h-3.4zM249 169h3.4v3.4h-3.4zM246 172h3.4v3.4h-3.4zM243 175h3.4v3.4h-3.4zM240 178h3.4v3.4h-3.4zM234 181h6.4v3.4h-6.4zM234 184h3.4v3.4h-3.4z"/>
<path fill="#24b4ac" d="M279 148h3.4v3.4h-3.4z"/>
<path fill="#38b054" d="M246 151h3.4v3.4h-3.4zM240 154h3.4v3.4h-3.4zM228 163h3.4v3.4h-3.4z"/>
<path fill="#28b068" d="M261 151h3.4v3.4h-3.4zM249 154h6.4v3.4h-6.4zM243 157h3.4v3.4h-3.4zM228 169h3.4v3.4h-3.4zM222 172h3.4v3.4h-3.4z"/>
<path fill="#24b484" d="M270 151h3.4v3.4h-3.4zM267 154h3.4v3.4h-3.4zM261 157h3.4v3.4h-3.4zM249 160h6.4v3.4h-6.4zM234 172h3.4v3.4h-3.4zM231 175h3.4v3.4h-3.4zM228 178h3.4v3.4h-3.4z"/>
<path fill="#24b894" d="M273 151h3.4v3.4h-3.4zM255 163h6.4v3.4h-6.4zM249 166h3.4v3.4h-3.4zM246 169h3.4v3.4h-3.4zM243 172h3.4v3.4h-3.4zM240 175h3.4v3.4h-3.4zM237 178h3.4v3.4h-3.4z"/>
<path fill="#24b0ac" d="M276 151h3.4v3.4h-3.4zM255 169h3.4v3.4h-3.4z"/>
<path fill="#28a4c4" d="M279 151h3.4v3.4h-3.4z"/>
<path fill="#b46c14" d="M84 154h3.4v3.4h-3.4z"/>
<path fill="#24b490" d="M270 154h3.4v3.4h-3.4zM231 181h3.4v3.4h-3.4z"/>
<path fill="#24acac" d="M273 154h3.4v3.4h-3.4z"/>
<path fill="#28a0c8" d="M276 154h3.4v3.4h-3.4z"/>
<path fill="#2890e0" d="M279 154h3.4v3.4h-3.4z"/>
<path fill="#2c80f0" d="M282 154h3.4v3.4h-3.4zM279 157h3.4v3.4h-3.4z"/>
<path fill="#24b494" d="M267 157h3.4v3.4h-3.4z"/>
<path fill="#24a8b0" d="M270 157h3.4v3.4h-3.4z"/>
<path fill="#2898cc" d="M273 157h3.4v3.4h-3.4z"/>
<path fill="#2c88e4" d="M276 157h3.4v3.4h-3.4z"/>
<path fill="#2c78f4" d="M282 157h3.4v3.4h-3.4zM276 160h6.4v3.4h-6.4z"/>
<path fill="#44b43c" d="M222 160h3.4v3.4h-3.4zM198 169h3.4v3.4h-3.4z"/>
<path fill="#24b068" d="M240 160h3.4v3.4h-3.4zM237 163h3.4v3.4h-3.4z"/>
<path fill="#24b88c" d="M258 160h3.4v3.4h-3.4zM249 163h3.4v3.4h-3.4zM234 175h3.4v3.4h-3.4zM231 178h3.4v3.4h-3.4z"/>
<path fill="#24b498" d="M264 160h3.4v3.4h-3.4z"/>
<path fill="#28a4b4" d="M267 160h3.4v3.4h-3.4z"/>
<path fill="#2894d0" d="M270 160h3.4v3.4h-3.4z"/>
<path fill="#2c84e8" d="M273 160h3.4v3.4h-3.4z"/>
<path fill="#2c74f4" d="M282 160h3.4v3.4h-3.4z"/>
<path fill="#3074f4" d="M285 160h3.4v3.4h-3.4zM285 163h3.4v3.4h-3.4z"/>
<path fill="#30b058" d="M231 163h3.4v3.4h-3.4zM219 169h3.4v3.4h-3.4zM210 172h3.4v3.4h-3.4z"/>
<path fill="#24b4a0" d="M261 163h3.4v3.4h-3.4z"/>
<path fill="#28a4b8" d="M264 163h3.4v3.4h-3.4z"/>
<path fill="#2c8cd4" d="M267 163h3.4v3.4h-3.4z"/>
<path fill="#2c7ce8" d="M270 163h3.4v3.4h-3.4z"/>
<path fill="#3074f0" d="M273 163h3.4v3.4h-3.4z"/>
<path fill="#3070f0" d="M276 163h9.4v3.4h-9.4zM282 166h3.4v3.4h-3.4z"/>
<path fill="#24bc9c" d="M255 166h3.4v3.4h-3.4zM252 169h3.4v3.4h-3.4z"/>
<path fill="#24b0a8" d="M258 166h3.4v3.4h-3.4z"/>
<path fill="#28a0c0" d="M261 166h3.4v3.4h-3.4z"/>
<path fill="#2c88d8" d="M264 166h3.4v3.4h-3.4z"/>
<path fill="#3074e8" d="M267 166h3.4v3.4h-3.4z"/>
<path fill="#306cf0" d="M270 166h12.4v3.4h-12.4zM279 169h3.4v3.4h-3.4z"/>
<path fill="#38b050" d="M213 169h3.4v3.4h-3.4zM144 187h3.4v3.4h-3.4zM135 196h3.4v3.4h-3.4z"/>
<path fill="#30b060" d="M222 169h3.4v3.4h-3.4z"/>
<path fill="#2898c4" d="M258 169h3.4v3.4h-3.4z"/>
<path fill="#2c80dc" d="M261 169h3.4v3.4h-3.4z"/>
<path fill="#306cec" d="M264 169h3.4v3.4h-3.4z"/>
<path fill="#3068ec" d="M267 169h12.4v3.4h-12.4zM276 172h3.4v3.4h-3.4z"/>
<path fill="#50b038" d="M180 172h3.4v3.4h-3.4z"/>
<path fill="#4cb038" d="M183 172h3.4v3.4h-3.4zM171 175h6.4v3.4h-6.4z"/>
<path fill="#48b038" d="M186 172h3.4v3.4h-3.4zM165 178h3.4v3.4h-3.4z"/>
<path fill="#44b03c" d="M189 172h3.4v3.4h-3.4z"/>
<path fill="#40ac3c" d="M192 172h3.4v3.4h-3.4zM183 175h3.4v3.4h-3.4z"/>
<path fill="#40ac40" d="M195 172h3.4v3.4h-3.4zM162 181h6.4v3.4h-6.4z"/>
<path fill="#3cac44" d="M198 172h3.4v3.4h-3.4zM159 184h3.4v3.4h-3.4z"/>
<path fill="#38ac48" d="M201 172h3.4v3.4h-3.4z"/>
<path fill="#38ac4c" d="M204 172h3.4v3.4h-3.4z"/>
<path fill="#34ac54" d="M207 172h3.4v3.4h-3.4z"/>
<path fill="#24bca0" d="M249 172h3.4v3.4h-3.4zM246 175h3.4v3.4h-3.4z"/>
<path fill="#24acb0" d="M252 172h3.4v3.4h-3.4z"/>
<path fill="#2894c8" d="M255 172h3.4v3.4h-3.4z"/>
<path fill="#3078dc" d="M258 172h3.4v3.4h-3.4z"/>
<path fill="#3068e8" d="M261 172h3.4v3.4h-3.4z"/>
<path fill="#3064ec" d="M264 172h6.4v3.4h-6.4z"/>
<path fill="#3464ec" d="M270 172h6.4v3.4h-6.4zM273 175h3.4v3.4h-3.4z"/>
<path fill="#48ac38" d="M177 175h3.4v3.4h-3.4z"/>
<path fill="#44ac38" d="M180 175h3.4v3.4h-3.4zM168 178h6.4v3.4h-6.4z"/>
<path fill="#3ca840" d="M186 175h6.4v3.4h-6.4zM180 178h3.4v3.4h-3.4zM168 181h6.4v3.4h-6.4z"/>
<path fill="#38a844" d="M192 175h3.4v3.4h-3.4zM162 184h3.4v3.4h-3.4z"/>
<path fill="#38a848" d="M195 175h3.4v3.4h-3.4z"/>
<path fill="#34a84c" d="M198 175h3.4v3.4h-3.4zM159 187h3.4v3.4h-3.4z"/>
<path fill="#30a850" d="M201 175h3.4v3.4h-3.4z"/>
<path fill="#2ca854" d="M204 175h3.4v3.4h-3.4z"/>
<path fill="#2ca85c" d="M207 175h3.4v3.4h-3.4z"/>
<path fill="#28a860" d="M210 175h3.4v3.4h-3.4zM150 193h3.4v3.4h-3.4z"/>
<path fill="#28a864" d="M213 175h3.4v3.4h-3.4zM147 193h3.4v3.4h-3.4z"/>
<path fill="#24ac68" d="M216 175h3.4v3.4h-3.4z"/>
<path fill="#24ac6c" d="M219 175h3.4v3.4h-3.4z"/>
<path fill="#28a8b0" d="M249 175h3.4v3.4h-3.4z"/>
<path fill="#2c8cc8" d="M252 175h3.4v3.4h-3.4z"/>
<path fill="#3070e0" d="M255 175h3.4v3.4h-3.4z"/>
<path fill="#3460e8" d="M258 175h15.4v3.4h-15.4z"/>
<path fill="#40a83c" d="M174 178h3.4v3.4h-3.4z"/>
<path fill="#3ca83c" d="M177 178h3.4v3.4h-3.4z"/>
<path fill="#38a444" d="M183 178h3.4v3.4h-3.4zM174 181h3.4v3.4h-3.4zM165 184h6.4v3.4h-6.4z"/>
<path fill="#34a448" d="M186 178h6.4v3.4h-6.4zM162 187h3.4v3.4h-3.4z"/>
<path fill="#30a04c" d="M192 178h3.4v3.4h-3.4z"/>
<path fill="#2ca050" d="M195 178h3.4v3.4h-3.4zM159 190h3.4v3.4h-3.4z"/>
<path fill="#2ca054" d="M198 178h3.4v3.4h-3.4z"/>
<path fill="#28a058" d="M201 178h3.4v3.4h-3.4zM156 193h3.4v3.4h-3.4z"/>
<path fill="#28a05c" d="M204 178h3.4v3.4h-3.4z"/>
<path fill="#24a060" d="M207 178h3.4v3.4h-3.4zM153 196h3.4v3.4h-3.4z"/>
<path fill="#20a464" d="M210 178h3.4v3.4h-3.4zM147 199h3.4v3.4h-3.4z"/>
<path fill="#20a468" d="M213 178h3.4v3.4h-3.4zM144 202h3.4v3.4h-3.4zM141 205h3.4v3.4h-3.4zM141 208h3.4v3.4h-3.4z"/>
<path fill="#20a870" d="M216 178h3.4v3.4h-3.4z"/>
<path fill="#20ac74" d="M219 178h3.4v3.4h-3.4z"/>
<path fill="#20ac78" d="M222 178h3.4v3.4h-3.4z"/>
<path fill="#24b080" d="M225 178h3.4v3.4h-3.4z"/>
<path fill="#24b8a0" d="M243 178h3.4v3.4h-3.4zM240 181h3.4v3.4h-3.4zM237 184h3.4v3.4h-3.4z"/>
<path fill="#28a4b0" d="M246 178h3.4v3.4h-3.4z"/>
<path fill="#2c84cc" d="M249 178h3.4v3.4h-3.4z"/>
<path fill="#3068e0" d="M252 178h3.4v3.4h-3.4z"/>
<path fill="#345ce8" d="M255 178h15.4v3.4h-15.4z"/>
<path fill="#40b040" d="M159 181h3.4v3.4h-3.4z"/>
<path fill="#34a044" d="M177 181h3.4v3.4h-3.4zM171 184h3.4v3.4h-3.4z"/>
<path fill="#34a048" d="M180 181h3.4v3.4h-3.4zM165 187h3.4v3.4h-3.4z"/>
<path fill="#30a048" d="M183 181h3.4v3.4h-3.4zM174 184h3.4v3.4h-3.4z"/>
<path fill="#2c9c4c" d="M186 181h3.4v3.4h-3.4zM180 184h3.4v3.4h-3.4zM171 187h3.4v3.4h-3.4zM165 190h3.4v3.4h-3.4z"/>
<path fill="#2c9c50" d="M189 181h3.4v3.4h-3.4z"/>
<path fill="#289c54" d="M192 181h3.4v3.4h-3.4zM159 193h3.4v3.4h-3.4z"/>
<path fill="#289c58" d="M195 181h3.4v3.4h-3.4z"/>
<path fill="#249c58" d="M198 181h3.4v3.4h-3.4z"/>
<path fill="#209c5c" d="M201 181h3.4v3.4h-3.4z"/>
<path fill="#209c60" d="M204 181h3.4v3.4h-3.4zM153 199h3.4v3.4h-3.4z"/>
<path fill="#209c68" d="M207 181h3.4v3.4h-3.4zM150 202h3.4v3.4h-3.4zM150 205h3.4v3.4h-3.4z"/>
<path fill="#20a06c" d="M210 181h3.4v3.4h-3.4zM144 208h3.4v3.4h-3.4zM144 211h3.4v3.4h-3.4z"/>
<path fill="#20a470" d="M213 181h3.4v3.4h-3.4z"/>
<path fill="#20a474" d="M216 181h3.4v3.4h-3.4z"/>
<path fill="#20a878" d="M219 181h3.4v3.4h-3.4z"/>
<path fill="#20ac80" d="M222 181h3.4v3.4h-3.4z"/>
<path fill="#20ac84" d="M225 181h3.4v3.4h-3.4z"/>
<path fill="#20b088" d="M228 181h3.4v3.4h-3.4z"/>
<path fill="#28a0b4" d="M243 181h3.4v3.4h-3.4z"/>
<path fill="#307ccc" d="M246 181h3.4v3.4h-3.4z"/>
<path fill="#3460e0" d="M249 181h3.4v3.4h-3.4z"/>
<path fill="#3458e4" d="M252 181h15.4v3.4h-15.4z"/>
<path fill="#3cb04c" d="M153 184h3.4v3.4h-3.4z"/>
<path fill="#3cac48" d="M156 184h3.4v3.4h-3.4z"/>
<path fill="#309c4c" d="M177 184h3.4v3.4h-3.4z"/>
<path fill="#289850" d="M183 184h3.4v3.4h-3.4zM177 187h3.4v3.4h-3.4zM171 190h3.4v3.4h-3.4zM165 193h3.4v3.4h-3.4z"/>
<path fill="#289854" d="M186 184h3.4v3.4h-3.4zM162 193h3.4v3.4h-3.4z"/>
<path fill="#249854" d="M189 184h3.4v3.4h-3.4z"/>
<path fill="#249858" d="M192 184h3.4v3.4h-3.4zM159 196h3.4v3.4h-3.4z"/>
<path fill="#20945c" d="M195 184h3.4v3.4h-3.4zM159 199h3.4v3.4h-3.4z"/>
<path fill="#1c9460" d="M198 184h3.4v3.4h-3.4zM156 202h3.4v3.4h-3.4z"/>
<path fill="#209864" d="M201 184h3.4v3.4h-3.4zM153 202h3.4v3.4h-3.4z"/>
<path fill="#209868" d="M204 184h3.4v3.4h-3.4z"/>
<path fill="#209c6c" d="M207 184h3.4v3.4h-3.4zM147 208h3.4v3.4h-3.4zM147 211h3.4v3.4h-3.4z"/>
<path fill="#209c70" d="M210 184h3.4v3.4h-3.4zM144 214h3.4v3.4h-3.4z"/>
<path fill="#20a074" d="M213 184h3.4v3.4h-3.4z"/>
<path fill="#20a478" d="M216 184h3.4v3.4h-3.4z"/>
<path fill="#20a47c" d="M219 184h3.4v3.4h-3.4z"/>
<path fill="#20a884" d="M222 184h3.4v3.4h-3.4z"/>
<path fill="#20ac88" d="M225 184h3.4v3.4h-3.4z"/>
<path fill="#20b08c" d="M228 184h3.4v3.4h-3.4z"/>
<path fill="#20b490" d="M231 184h3.4v3.4h-3.4z"/>
<path fill="#2898b8" d="M240 184h3.4v3.4h-3.4z"/>
<path fill="#3074d0" d="M243 184h3.4v3.4h-3.4z"/>
<path fill="#3458e0" d="M246 184h3.4v3.4h-3.4z"/>
<path fill="#3854e4" d="M249 184h6.4v3.4h-6.4zM261 184h3.4v3.4h-3.4z"/>
<path fill="#3850e0" d="M255 184h6.4v3.4h-6.4zM243 187h6.4v3.4h-6.4z"/>
<path fill="#34ac50" d="M153 187h3.4v3.4h-3.4z"/>
<path fill="#34a850" d="M156 187h3.4v3.4h-3.4z"/>
<path fill="#309c48" d="M168 187h3.4v3.4h-3.4z"/>
<path fill="#2c984c" d="M174 187h3.4v3.4h-3.4z"/>
<path fill="#249450" d="M180 187h3.4v3.4h-3.4zM174 190h3.4v3.4h-3.4z"/>
<path fill="#249454" d="M183 187h3.4v3.4h-3.4zM168 193h3.4v3.4h-3.4z"/>
<path fill="#209458" d="M186 187h3.4v3.4h-3.4z"/>
<path fill="#209058" d="M189 187h3.4v3.4h-3.4zM168 196h3.4v3.4h-3.4z"/>
<path fill="#1c905c" d="M192 187h3.4v3.4h-3.4z"/>
<path fill="#1c9060" d="M195 187h3.4v3.4h-3.4zM159 202h6.4v3.4h-6.4z"/>
<path fill="#1c9464" d="M198 187h3.4v3.4h-3.4zM156 205h3.4v3.4h-3.4z"/>
<path fill="#1c9468" d="M201 187h3.4v3.4h-3.4zM153 208h3.4v3.4h-3.4z"/>
<path fill="#1c946c" d="M204 187h3.4v3.4h-3.4zM153 211h3.4v3.4h-3.4zM153 214h3.4v3.4h-3.4z"/>
<path fill="#1c9870" d="M207 187h3.4v3.4h-3.4zM147 214h3.4v3.4h-3.4zM147 217h3.4v3.4h-3.4z"/>
<path fill="#1c9c74" d="M210 187h3.4v3.4h-3.4z"/>
<path fill="#209c78" d="M213 187h3.4v3.4h-3.4z"/>
<path fill="#20a07c" d="M216 187h3.4v3.4h-3.4z"/>
<path fill="#20a080" d="M219 187h3.4v3.4h-3.4z"/>
<path fill="#20a484" d="M222 187h3.4v3.4h-3.4z"/>
<path fill="#20a888" d="M225 187h3.4v3.4h-3.4z"/>
<path fill="#20ac90" d="M228 187h3.4v3.4h-3.4z"/>
<path fill="#20b094" d="M231 187h3.4v3.4h-3.4z"/>
<path fill="#24ac9c" d="M234 187h3.4v3.4h-3.4z"/>
<path fill="#2c90b8" d="M237 187h3.4v3.4h-3.4z"/>
<path fill="#3468d0" d="M240 187h3.4v3.4h-3.4z"/>
<path fill="#384cdc" d="M249 187h9.4v3.4h-9.4z"/>
<path fill="#2cb05c" d="M147 190h3.4v3.4h-3.4z"/>
<path fill="#2cac5c" d="M150 190h3.4v3.4h-3.4z"/>
<path fill="#2ca858" d="M153 190h3.4v3.4h-3.4z"/>
<path fill="#2ca454" d="M156 190h3.4v3.4h-3.4z"/>
<path fill="#2ca04c" d="M162 190h3.4v3.4h-3.4z"/>
<path fill="#2c9850" d="M168 190h3.4v3.4h-3.4z"/>
<path fill="#249054" d="M177 190h3.4v3.4h-3.4zM171 193h3.4v3.4h-3.4z"/>
<path fill="#209054" d="M180 190h3.4v3.4h-3.4zM174 193h3.4v3.4h-3.4z"/>
<path fill="#1c9058" d="M183 190h3.4v3.4h-3.4zM162 199h3.4v3.4h-3.4z"/>
<path fill="#1c8c5c" d="M186 190h6.4v3.4h-6.4zM183 193h3.4v3.4h-3.4zM168 199h3.4v3.4h-3.4z"/>
<path fill="#1c8c60" d="M192 190h3.4v3.4h-3.4zM165 202h3.4v3.4h-3.4z"/>
<path fill="#1c9064" d="M195 190h3.4v3.4h-3.4zM159 205h3.4v3.4h-3.4z"/>
<path fill="#1c9068" d="M198 190h3.4v3.4h-3.4zM156 208h3.4v3.4h-3.4zM156 211h3.4v3.4h-3.4z"/>
<path fill="#1c906c" d="M201 190h3.4v3.4h-3.4zM156 214h3.4v3.4h-3.4z"/>
<path fill="#1c9470" d="M204 190h3.4v3.4h-3.4zM150 214h3.4v3.4h-3.4zM150 217h3.4v3.4h-3.4z"/>
<path fill="#1c9474" d="M207 190h3.4v3.4h-3.4zM150 220h3.4v3.4h-3.4z"/>
<path fill="#1c9878" d="M210 190h3.4v3.4h-3.4z"/>
<path fill="#1c987c" d="M213 190h3.4v3.4h-3.4z"/>
<path fill="#1c9c80" d="M216 190h3.4v3.4h-3.4z"/>
<path fill="#1ca080" d="M219 190h3.4v3.4h-3.4z"/>
<path fill="#20a088" d="M222 190h3.4v3.4h-3.4z"/>
<path fill="#20a48c" d="M225 190h3.4v3.4h-3.4z"/>
<path fill="#20a890" d="M228 190h3.4v3.4h-3.4z"/>
<path fill="#24a49c" d="M231 190h3.4v3.4h-3.4z"/>
<path fill="#2c84b4" d="M234 190h3.4v3.4h-3.4z"/>
<path fill="#3460cc" d="M237 190h3.4v3.4h-3.4z"/>
<path fill="#384cd8" d="M240 190h3.4v3.4h-3.4z"/>
<path fill="#3848d4" d="M243 190h12.4v3.4h-12.4z"/>
<path fill="#2cac60" d="M144 193h3.4v3.4h-3.4z"/>
<path fill="#28a45c" d="M153 193h3.4v3.4h-3.4z"/>
<path fill="#1c8c58" d="M177 193h6.4v3.4h-6.4zM171 196h6.4v3.4h-6.4zM165 199h3.4v3.4h-3.4z"/>
<path fill="#1c885c" d="M186 193h3.4v3.4h-3.4zM177 196h9.4v3.4h-9.4zM171 199h6.4v3.4h-6.4z"/>
<path fill="#1c8860" d="M189 193h3.4v3.4h-3.4zM186 196h3.4v3.4h-3.4zM168 202h6.4v3.4h-6.4zM165 205h6.4v3.4h-6.4z"/>
<path fill="#1c8c64" d="M192 193h6.4v3.4h-6.4zM162 205h3.4v3.4h-3.4zM162 208h3.4v3.4h-3.4z"/>
<path fill="#1c8c68" d="M198 193h3.4v3.4h-3.4zM159 208h3.4v3.4h-3.4zM159 211h3.4v3.4h-3.4z"/>
<path fill="#1c8c6c" d="M201 193h3.4v3.4h-3.4zM159 214h3.4v3.4h-3.4z"/>
<path fill="#1c9070" d="M204 193h3.4v3.4h-3.4zM153 217h3.4v3.4h-3.4zM153 220h3.4v3.4h-3.4z"/>
<path fill="#1c9074" d="M207 193h3.4v3.4h-3.4zM153 223h3.4v3.4h-3.4z"/>
<path fill="#1c9478" d="M210 193h3.4v3.4h-3.4z"/>
<path fill="#1c947c" d="M213 193h3.4v3.4h-3.4z"/>
<path fill="#1c9880" d="M216 193h3.4v3.4h-3.4z"/>
<path fill="#1c9c84" d="M219 193h3.4v3.4h-3.4z"/>
<path fill="#1ca088" d="M222 193h3.4v3.4h-3.4z"/>
<path fill="#20a08c" d="M225 193h3.4v3.4h-3.4z"/>
<path fill="#20a094" d="M228 193h3.4v3.4h-3.4z"/>
<path fill="#2c7cb0" d="M231 193h3.4v3.4h-3.4z"/>
<path fill="#3454c8" d="M234 193h3.4v3.4h-3.4z"/>
<path fill="#3844d0" d="M237 193h3.4v3.4h-3.4z"/>
<path fill="#3844cc" d="M240 193h12.4v3.4h-12.4z"/>
<path fill="#28ac64" d="M144 196h3.4v3.4h-3.4zM141 199h3.4v3.4h-3.4zM138 202h3.4v3.4h-3.4z"/>
<path fill="#24a864" d="M147 196h3.4v3.4h-3.4zM144 199h3.4v3.4h-3.4zM141 202h3.4v3.4h-3.4z"/>
<path fill="#24a464" d="M150 196h3.4v3.4h-3.4z"/>
<path fill="#249c5c" d="M156 196h3.4v3.4h-3.4z"/>
<path fill="#249458" d="M162 196h3.4v3.4h-3.4z"/>
<path fill="#209454" d="M165 196h3.4v3.4h-3.4z"/>
<path fill="#1c8864" d="M189 196h3.4v3.4h-3.4zM165 208h3.4v3.4h-3.4z"/>
<path fill="#188864" d="M192 196h3.4v3.4h-3.4z"/>
<path fill="#188868" d="M195 196h3.4v3.4h-3.4zM162 214h3.4v3.4h-3.4z"/>
<path fill="#18886c" d="M198 196h3.4v3.4h-3.4zM159 217h3.4v3.4h-3.4z"/>
<path fill="#1c886c" d="M201 196h3.4v3.4h-3.4z"/>
<path fill="#1c8c70" d="M204 196h3.4v3.4h-3.4zM156 217h3.4v3.4h-3.4zM156 220h3.4v3.4h-3.4z"/>
<path fill="#1c8c74" d="M207 196h3.4v3.4h-3.4zM156 223h3.4v3.4h-3.4z"/>
<path fill="#1c9078" d="M210 196h3.4v3.4h-3.4z"/>
<path fill="#1c907c" d="M213 196h3.4v3.4h-3.4z"/>
<path fill="#1c9480" d="M216 196h3.4v3.4h-3.4z"/>
<path fill="#1c9884" d="M219 196h3.4v3.4h-3.4z"/>
<path fill="#1c9c88" d="M222 196h3.4v3.4h-3.4z"/>
<path fill="#1c9c8c" d="M225 196h3.4v3.4h-3.4z"/>
<path fill="#287ca8" d="M228 196h3.4v3.4h-3.4z"/>
<path fill="#3450c0" d="M231 196h3.4v3.4h-3.4z"/>
<path fill="#3840c4" d="M234 196h12.4v3.4h-12.4z"/>
<path fill="#20a064" d="M150 199h3.4v3.4h-3.4z"/>
<path fill="#209860" d="M156 199h3.4v3.4h-3.4z"/>
<path fill="#1c845c" d="M177 199h3.4v3.4h-3.4z"/>
<path fill="#188460" d="M180 199h9.4v3.4h-9.4zM174 202h6.4v3.4h-6.4zM171 205h3.4v3.4h-3.4z"/>
<path fill="#188464" d="M189 199h3.4v3.4h-3.4zM168 208h3.4v3.4h-3.4z"/>
<path fill="#188468" d="M192 199h6.4v3.4h-6.4zM165 211h3.4v3.4h-3.4zM165 214h3.4v3.4h-3.4z"/>
<path fill="#18846c" d="M198 199h3.4v3.4h-3.4zM162 217h3.4v3.4h-3.4zM162 220h3.4v3.4h-3.4z"/>
<path fill="#188470" d="M201 199h3.4v3.4h-3.4zM204 202h3.4v3.4h-3.4zM159 223h3.4v3.4h-3.4z"/>
<path fill="#188870" d="M204 199h3.4v3.4h-3.4zM159 220h3.4v3.4h-3.4z"/>
<path fill="#188874" d="M207 199h3.4v3.4h-3.4zM156 226h3.4v3.4h-3.4z"/>
<path fill="#188c78" d="M210 199h3.4v3.4h-3.4z"/>
<path fill="#1c8c7c" d="M213 199h3.4v3.4h-3.4z"/>
<path fill="#1c9080" d="M216 199h3.4v3.4h-3.4z"/>
<path fill="#1c9484" d="M219 199h3.4v3.4h-3.4z"/>
<path fill="#1c9888" d="M222 199h3.4v3.4h-3.4z"/>
<path fill="#2878a0" d="M225 199h3.4v3.4h-3.4z"/>
<path fill="#344cb8" d="M228 199h3.4v3.4h-3.4z"/>
<path fill="#3c3cc0" d="M231 199h3.4v3.4h-3.4z"/>
<path fill="#3c3cbc" d="M234 199h12.4v3.4h-12.4z"/>
<path fill="#20a068" d="M147 202h3.4v3.4h-3.4zM144 205h6.4v3.4h-6.4z"/>
<path fill="#188060" d="M180 202h6.4v3.4h-6.4zM174 205h6.4v3.4h-6.4z"/>
<path fill="#188064" d="M186 202h6.4v3.4h-6.4zM171 208h6.4v3.4h-6.4zM168 211h6.4v3.4h-6.4z"/>
<path fill="#188068" d="M192 202h6.4v3.4h-6.4zM168 214h3.4v3.4h-3.4zM165 217h3.4v3.4h-3.4zM165 220h3.4v3.4h-3.4z"/>
<path fill="#18806c" d="M198 202h3.4v3.4h-3.4zM162 223h3.4v3.4h-3.4z"/>
<path fill="#188070" d="M201 202h3.4v3.4h-3.4zM204 205h3.4v3.4h-3.4zM162 226h3.4v3.4h-3.4zM162 229h3.4v3.4h-3.4z"/>
<path fill="#188474" d="M207 202h3.4v3.4h-3.4zM159 226h3.4v3.4h-3.4z"/>
<path fill="#188878" d="M210 202h3.4v3.4h-3.4z"/>
<path fill="#188c7c" d="M213 202h3.4v3.4h-3.4z"/>
<path fill="#188c80" d="M216 202h3.4v3.4h-3.4z"/>
<path fill="#1c9084" d="M219 202h3.4v3.4h-3.4z"/>
<path fill="#247898" d="M222 202h3.4v3.4h-3.4z"/>
<path fill="#344cb0" d="M225 202h3.4v3.4h-3.4z"/>
<path fill="#3c38b8" d="M228 202h3.4v3.4h-3.4z"/>
<path fill="#3c38b4" d="M231 202h6.4v3.4h-6.4zM240 202h3.4v3.4h-3.4z"/>
<path fill="#3c38b0" d="M237 202h3.4v3.4h-3.4z"/>
<path fill="#24ac64" d="M138 205h3.4v3.4h-3.4z"/>
<path fill="#1c9868" d="M153 205h3.4v3.4h-3.4z"/>
<path fill="#187c64" d="M180 205h12.4v3.4h-12.4zM177 208h6.4v3.4h-6.4zM174 211h3.4v3.4h-3.4zM171 214h3.4v3.4h-3.4z"/>
<path fill="#187c68" d="M192 205h6.4v3.4h-6.4zM168 217h3.4v3.4h-3.4zM168 220h3.4v3.4h-3.4z"/>
<path fill="#187c6c" d="M198 205h6.4v3.4h-6.4zM165 223h3.4v3.4h-3.4zM165 226h3.4v3.4h-3.4z"/>
<path fill="#188074" d="M207 205h3.4v3.4h-3.4z"/>
<path fill="#188478" d="M210 205h6.4v3.4h-6.4z"/>
<path fill="#18887c" d="M216 205h3.4v3.4h-3.4z"/>
<path fill="#247490" d="M219 205h3.4v3.4h-3.4z"/>
<path fill="#3448a8" d="M222 205h3.4v3.4h-3.4z"/>
<path fill="#3c34b0" d="M225 205h3.4v3.4h-3.4z"/>
<path fill="#3c34ac" d="M228 205h6.4v3.4h-6.4zM237 205h3.4v3.4h-3.4z"/>
<path fill="#3c34a8" d="M234 205h3.4v3.4h-3.4z"/>
<path fill="#24a868" d="M138 208h3.4v3.4h-3.4z"/>
<path fill="#20986c" d="M150 208h3.4v3.4h-3.4z"/>
<path fill="#187864" d="M183 208h9.4v3.4h-9.4zM177 211h6.4v3.4h-6.4zM174 214h3.4v3.4h-3.4zM171 217h3.4v3.4h-3.4zM171 220h3.4v3.4h-3.4z"/>
<path fill="#187868" d="M192 208h3.4v3.4h-3.4zM168 223h3.4v3.4h-3.4z"/>
<path fill="#147868" d="M195 208h3.4v3.4h-3.4zM168 226h3.4v3.4h-3.4z"/>
<path fill="#18786c" d="M198 208h6.4v3.4h-6.4z"/>
<path fill="#187870" d="M204 208h3.4v3.4h-3.4zM165 232h3.4v3.4h-3.4z"/>
<path fill="#187c70" d="M207 208h3.4v3.4h-3.4zM165 229h3.4v3.4h-3.4z"/>
<path fill="#187c74" d="M210 208h3.4v3.4h-3.4z"/>
<path fill="#188078" d="M213 208h3.4v3.4h-3.4z"/>
<path fill="#207488" d="M216 208h3.4v3.4h-3.4z"/>
<path fill="#3444a0" d="M219 208h3.4v3.4h-3.4z"/>
<path fill="#3c30a8" d="M222 208h3.4v3.4h-3.4z"/>
<path fill="#3c30a4" d="M225 208h6.4v3.4h-6.4zM234 208h3.4v3.4h-3.4z"/>
<path fill="#3c30a0" d="M231 208h3.4v3.4h-3.4z"/>
<path fill="#20a46c" d="M141 211h3.4v3.4h-3.4z"/>
<path fill="#1c986c" d="M150 211h3.4v3.4h-3.4z"/>
<path fill="#1c8868" d="M162 211h3.4v3.4h-3.4z"/>
<path fill="#147464" d="M183 211h9.4v3.4h-9.4zM177 214h3.4v3.4h-3.4zM174 217h3.4v3.4h-3.4zM174 220h3.4v3.4h-3.4zM171 223h3.4v3.4h-3.4z"/>
<path fill="#147468" d="M192 211h3.4v3.4h-3.4zM171 226h3.4v3.4h-3.4z"/>
<path fill="#147068" d="M195 211h6.4v3.4h-6.4zM171 229h3.4v3.4h-3.4z"/>
<path fill="#14746c" d="M201 211h6.4v3.4h-6.4zM168 229h3.4v3.4h-3.4zM168 232h3.4v3.4h-3.4z"/>
<path fill="#187470" d="M207 211h3.4v3.4h-3.4z"/>
<path fill="#187874" d="M210 211h3.4v3.4h-3.4z"/>
<path fill="#1c707c" d="M213 211h3.4v3.4h-3.4z"/>
<path fill="#344498" d="M216 211h3.4v3.4h-3.4z"/>
<path fill="#3c2ca0" d="M219 211h3.4v3.4h-3.4zM231 211h3.4v3.4h-3.4z"/>
<path fill="#3c2c9c" d="M222 211h9.4v3.4h-9.4z"/>
<path fill="#147460" d="M180 214h3.4v3.4h-3.4z"/>
<path fill="#147060" d="M183 214h3.4v3.4h-3.4zM177 217h6.4v3.4h-6.4zM177 220h3.4v3.4h-3.4z"/>
<path fill="#147064" d="M186 214h3.4v3.4h-3.4zM174 223h3.4v3.4h-3.4z"/>
<path fill="#146c64" d="M189 214h9.4v3.4h-9.4zM174 226h3.4v3.4h-3.4z"/>
<path fill="#146c68" d="M198 214h6.4v3.4h-6.4zM171 232h3.4v3.4h-3.4z"/>
<path fill="#146c6c" d="M204 214h3.4v3.4h-3.4z"/>
<path fill="#147070" d="M207 214h3.4v3.4h-3.4z"/>
<path fill="#186c74" d="M210 214h3.4v3.4h-3.4z"/>
<path fill="#304090" d="M213 214h3.4v3.4h-3.4z"/>
<path fill="#3c2898" d="M216 214h3.4v3.4h-3.4z"/>
<path fill="#3c2894" d="M219 214h9.4v3.4h-9.4z"/>
<path fill="#146c60" d="M183 217h3.4v3.4h-3.4zM180 220h3.4v3.4h-3.4zM177 223h3.4v3.4h-3.4z"/>
<path fill="#146860" d="M186 217h6.4v3.4h-6.4zM183 220h3.4v3.4h-3.4zM180 223h3.4v3.4h-3.4zM177 226h3.4v3.4h-3.4z"/>
<path fill="#146460" d="M192 217h3.4v3.4h-3.4zM186 220h3.4v3.4h-3.4zM177 229h3.4v3.4h-3.4z"/>
<path fill="#146464" d="M195 217h6.4v3.4h-6.4z"/>
<path fill="#146868" d="M201 217h6.4v3.4h-6.4zM174 232h3.4v3.4h-3.4z"/>
<path fill="#18686c" d="M207 217h3.4v3.4h-3.4z"/>
<path fill="#304088" d="M210 217h3.4v3.4h-3.4z"/>
<path fill="#3c2890" d="M213 217h3.4v3.4h-3.4z"/>
<path fill="#3c2490" d="M216 217h3.4v3.4h-3.4z"/>
<path fill="#3c248c" d="M219 217h6.4v3.4h-6.4zM210 220h3.4v3.4h-3.4z"/>
<path fill="#146060" d="M189 220h12.4v3.4h-12.4z"/>
<path fill="#146064" d="M201 220h3.4v3.4h-3.4zM177 232h3.4v3.4h-3.4zM177 235h3.4v3.4h-3.4z"/>
<path fill="#146468" d="M204 220h3.4v3.4h-3.4zM174 235h3.4v3.4h-3.4z"/>
<path fill="#2c4080" d="M207 220h3.4v3.4h-3.4z"/>
<path fill="#3c2488" d="M213 220h9.4v3.4h-9.4zM207 223h3.4v3.4h-3.4z"/>
<path fill="#14645c" d="M183 223h3.4v3.4h-3.4zM180 226h3.4v3.4h-3.4z"/>
<path fill="#14605c" d="M186 223h3.4v3.4h-3.4zM183 226h3.4v3.4h-3.4zM180 229h3.4v3.4h-3.4z"/>
<path fill="#145c5c" d="M189 223h3.4v3.4h-3.4z"/>
<path fill="#10585c" d="M192 223h6.4v3.4h-6.4zM186 226h3.4v3.4h-3.4zM183 229h3.4v3.4h-3.4zM183 232h3.4v3.4h-3.4z"/>
<path fill="#145860" d="M198 223h3.4v3.4h-3.4zM180 235h3.4v3.4h-3.4z"/>
<path fill="#145c60" d="M201 223h3.4v3.4h-3.4zM180 232h3.4v3.4h-3.4z"/>
<path fill="#284078" d="M204 223h3.4v3.4h-3.4z"/>
<path fill="#382084" d="M210 223h3.4v3.4h-3.4zM216 223h3.4v3.4h-3.4z"/>
<path fill="#382080" d="M213 223h3.4v3.4h-3.4zM204 226h3.4v3.4h-3.4z"/>
<path fill="#105858" d="M189 226h3.4v3.4h-3.4z"/>
<path fill="#105458" d="M192 226h3.4v3.4h-3.4zM186 229h3.4v3.4h-3.4z"/>
<path fill="#10545c" d="M195 226h6.4v3.4h-6.4zM183 235h3.4v3.4h-3.4z"/>
<path fill="#244070" d="M201 226h3.4v3.4h-3.4z"/>
<path fill="#38207c" d="M207 226h3.4v3.4h-3.4zM201 229h3.4v3.4h-3.4z"/>
<path fill="#381c78" d="M210 226h3.4v3.4h-3.4zM204 229h3.4v3.4h-3.4z"/>
<path fill="#146864" d="M174 229h3.4v3.4h-3.4z"/>
<path fill="#105058" d="M189 229h3.4v3.4h-3.4zM186 232h3.4v3.4h-3.4zM186 235h3.4v3.4h-3.4z"/>
<path fill="#104c58" d="M192 229h6.4v3.4h-6.4zM189 232h3.4v3.4h-3.4z"/>
<path fill="#203c68" d="M198 229h3.4v3.4h-3.4z"/>
<path fill="#381c74" d="M207 229h3.4v3.4h-3.4zM198 232h3.4v3.4h-3.4z"/>
<path fill="#104854" d="M192 232h3.4v3.4h-3.4z"/>
<path fill="#1c3c60" d="M195 232h3.4v3.4h-3.4z"/>
<path fill="#341c70" d="M201 232h3.4v3.4h-3.4zM195 235h3.4v3.4h-3.4z"/>
<path fill="#341870" d="M204 232h3.4v3.4h-3.4z"/>
<path fill="#104858" d="M189 235h3.4v3.4h-3.4z"/>
<path fill="#184058" d="M192 235h3.4v3.4h-3.4z"/>
<path fill="#341868" d="M198 235h6.4v3.4h-6.4z"/>
<path fill="#105460" d="M183 238h3.4v3.4h-3.4z"/>
<path fill="#10505c" d="M186 238h3.4v3.4h-3.4z"/>
<path fill="#1c4064" d="M189 238h3.4v3.4h-3.4z"/>
<path fill="#34186c" d="M192 238h3.4v3.4h-3.4z"/>
<path fill="#341464" d="M195 238h6.4v3.4h-6.4z"/>
<path fill="#301460" d="M195 241h3.4v3.4h-3.4z"/></g></g>
<polygon points="31.1,188.5 40.3,182.4 55.5,172.5 70.8,162.5 83,154.9 90.5,150.4 92,148.1 98.1,142 105.8,135.9 118,128.3 127.1,122.2 136.3,123.7 151.5,125.3 168,126 174,122 184,115 193.4,110 201,104.3 208.6,98.6 216.3,92.9 223.9,88.4 230,85.9 233.2,84.3 239.1,83.7 245,85.6 252.9,91.6 258.9,99.5 263,107 267,116 270,120.8 273.9,132.7 277.9,144.5 278.9,150 283.8,157.9 285.8,162.9 282.8,167.8 272.9,175.7 259.1,185.6 245.3,196.5 236.8,206.9 222.9,217.7 209.1,228.6 196.2,240.5 182.6,237.4 166.8,231.5 152.9,222.6 143,212.7 135.1,202.8 127.2,192.9 121.3,185 119.6,183.1 111.9,174 105.8,164.8 102.8,167.9 95.2,171.7 86,174 75.3,176.3 64.7,179.3 55.5,182.4 43.3,187" fill="url(#st)"/>
<clipPath id="c2"><polygon points="104.3,155.7 108,153 114,156.5 121.5,165 128,174.5 132.5,181 138,188 143.3,193 151.7,201 161.7,210.5 173.3,219.5 183.3,226.5 193.3,233 196.2,240.5 182.6,237.4 166.8,231.5 152.9,222.6 143,212.7 135.1,202.8 127.2,192.9 121.3,185 119.6,183.1 111.9,174 105.8,164.8"/></clipPath><g clip-path="url(#c2)"><g filter="url(#bl)"><path fill="#f0b02c" d="M103 152h9.4v3.4h-9.4zM106 155h3.4v3.4h-3.4z"/>
<path fill="#f0b430" d="M103 155h3.4v3.4h-3.4z"/>
<path fill="#f0b42c" d="M109 155h6.4v3.4h-6.4z"/>
<path fill="#ecb830" d="M115 155h3.4v3.4h-3.4zM103 158h3.4v3.4h-3.4z"/>
<path fill="#f0b830" d="M106 158h6.4v3.4h-6.4z"/>
<path fill="#f0bc30" d="M112 158h3.4v3.4h-3.4z"/>
<path fill="#f0c030" d="M115 158h3.4v3.4h-3.4z"/>
<path fill="#ecc034" d="M103 161h3.4v3.4h-3.4z"/>
<path fill="#ecc030" d="M106 161h3.4v3.4h-3.4z"/>
<path fill="#f0c430" d="M109 161h6.4v3.4h-6.4z"/>
<path fill="#f0c830" d="M115 161h3.4v3.4h-3.4z"/>
<path fill="#e8cc30" d="M118 161h3.4v3.4h-3.4z"/>
<path fill="#e8c434" d="M103 164h3.4v3.4h-3.4z"/>
<path fill="#ecc834" d="M106 164h3.4v3.4h-3.4z"/>
<path fill="#eccc34" d="M109 164h3.4v3.4h-3.4z"/>
<path fill="#ecd030" d="M112 164h6.4v3.4h-6.4z"/>
<path fill="#e8d430" d="M118 164h3.4v3.4h-3.4z"/>
<path fill="#e0d430" d="M121 164h3.4v3.4h-3.4z"/>
<path fill="#e4d038" d="M106 167h3.4v3.4h-3.4z"/>
<path fill="#e8d434" d="M109 167h3.4v3.4h-3.4z"/>
<path fill="#e8d834" d="M112 167h3.4v3.4h-3.4z"/>
<path fill="#e8d830" d="M115 167h3.4v3.4h-3.4z"/>
<path fill="#e4d830" d="M118 167h3.4v3.4h-3.4z"/>
<path fill="#dcd830" d="M121 167h3.4v3.4h-3.4z"/>
<path fill="#d0d434" d="M124 167h3.4v3.4h-3.4z"/>
<path fill="#e0d838" d="M109 170h3.4v3.4h-3.4z"/>
<path fill="#e0dc34" d="M112 170h6.4v3.4h-6.4z"/>
<path fill="#e4e034" d="M118 170h3.4v3.4h-3.4z"/>
<path fill="#d4dc34" d="M121 170h3.4v3.4h-3.4z"/>
<path fill="#c8d834" d="M124 170h3.4v3.4h-3.4z"/>
<path fill="#d4d83c" d="M109 173h3.4v3.4h-3.4z"/>
<path fill="#d4dc3c" d="M112 173h3.4v3.4h-3.4z"/>
<path fill="#d4e038" d="M115 173h3.4v3.4h-3.4z"/>
<path fill="#d0e034" d="M118 173h3.4v3.4h-3.4z"/>
<path fill="#c8e034" d="M121 173h3.4v3.4h-3.4z"/>
<path fill="#b8dc34" d="M124 173h3.4v3.4h-3.4z"/>
<path fill="#a8d838" d="M127 173h3.4v3.4h-3.4z"/>
<path fill="#c8dc40" d="M112 176h3.4v3.4h-3.4z"/>
<path fill="#c4e040" d="M115 176h3.4v3.4h-3.4z"/>
<path fill="#bce03c" d="M118 176h3.4v3.4h-3.4z"/>
<path fill="#b4e038" d="M121 176h3.4v3.4h-3.4z"/>
<path fill="#a4e038" d="M124 176h3.4v3.4h-3.4z"/>
<path fill="#98d840" d="M127 176h3.4v3.4h-3.4z"/>
<path fill="#88d448" d="M130 176h3.4v3.4h-3.4z"/>
<path fill="#b0e048" d="M115 179h3.4v3.4h-3.4z"/>
<path fill="#a8e044" d="M118 179h3.4v3.4h-3.4z"/>
<path fill="#9ce040" d="M121 179h3.4v3.4h-3.4z"/>
<path fill="#90e040" d="M124 179h3.4v3.4h-3.4z"/>
<path fill="#84dc48" d="M127 179h3.4v3.4h-3.4z"/>
<path fill="#74d450" d="M130 179h3.4v3.4h-3.4z"/>
<path fill="#6cd058" d="M133 179h3.4v3.4h-3.4z"/>
<path fill="#94e054" d="M118 182h3.4v3.4h-3.4z"/>
<path fill="#88e054" d="M121 182h3.4v3.4h-3.4z"/>
<path fill="#7ce054" d="M124 182h3.4v3.4h-3.4z"/>
<path fill="#6cdc5c" d="M127 182h3.4v3.4h-3.4z"/>
<path fill="#60d460" d="M130 182h3.4v3.4h-3.4z"/>
<path fill="#58d064" d="M133 182h3.4v3.4h-3.4z"/>
<path fill="#78dc64" d="M121 185h3.4v3.4h-3.4z"/>
<path fill="#68dc68" d="M124 185h3.4v3.4h-3.4z"/>
<path fill="#58dc70" d="M127 185h3.4v3.4h-3.4z"/>
<path fill="#4cd474" d="M130 185h3.4v3.4h-3.4z"/>
<path fill="#44d074" d="M133 185h3.4v3.4h-3.4z"/>
<path fill="#44c87c" d="M136 185h3.4v3.4h-3.4z"/>
<path fill="#68d878" d="M121 188h3.4v3.4h-3.4z"/>
<path fill="#58d880" d="M124 188h3.4v3.4h-3.4z"/>
<path fill="#48d888" d="M127 188h3.4v3.4h-3.4z"/>
<path fill="#3cd490" d="M130 188h3.4v3.4h-3.4z"/>
<path fill="#38cc90" d="M133 188h3.4v3.4h-3.4z"/>
<path fill="#38c494" d="M136 188h3.4v3.4h-3.4z"/>
<path fill="#38bc9c" d="M139 188h3.4v3.4h-3.4z"/>
<path fill="#50d490" d="M124 191h3.4v3.4h-3.4z"/>
<path fill="#40d498" d="M127 191h3.4v3.4h-3.4z"/>
<path fill="#38d0a4" d="M130 191h3.4v3.4h-3.4z"/>
<path fill="#30c8a8" d="M133 191h3.4v3.4h-3.4z"/>
<path fill="#30c4b0" d="M136 191h3.4v3.4h-3.4z"/>
<path fill="#30b8b4" d="M139 191h3.4v3.4h-3.4z"/>
<path fill="#34b0b4" d="M142 191h3.4v3.4h-3.4z"/>
<path fill="#3ccca8" d="M127 194h3.4v3.4h-3.4z"/>
<path fill="#34c8b4" d="M130 194h3.4v3.4h-3.4z"/>
<path fill="#2cc4c0" d="M133 194h3.4v3.4h-3.4z"/>
<path fill="#2cc0c8" d="M136 194h3.4v3.4h-3.4z"/>
<path fill="#2cb4c8" d="M139 194h3.4v3.4h-3.4z"/>
<path fill="#30acc8" d="M142 194h3.4v3.4h-3.4z"/>
<path fill="#30a0c4" d="M145 194h3.4v3.4h-3.4z"/>
<path fill="#34c0c4" d="M130 197h3.4v3.4h-3.4z"/>
<path fill="#2cbcd0" d="M133 197h3.4v3.4h-3.4z"/>
<path fill="#28b8d8" d="M136 197h3.4v3.4h-3.4z"/>
<path fill="#28b0d8" d="M139 197h3.4v3.4h-3.4z"/>
<path fill="#2ca4d8" d="M142 197h3.4v3.4h-3.4z"/>
<path fill="#2c9cd4" d="M145 197h3.4v3.4h-3.4z"/>
<path fill="#3090d0" d="M148 197h3.4v3.4h-3.4z"/>
<path fill="#2cb4d8" d="M133 200h3.4v3.4h-3.4z"/>
<path fill="#28ace0" d="M136 200h3.4v3.4h-3.4z"/>
<path fill="#28a4e4" d="M139 200h3.4v3.4h-3.4z"/>
<path fill="#289ce4" d="M142 200h3.4v3.4h-3.4z"/>
<path fill="#2c94e0" d="M145 200h3.4v3.4h-3.4z"/>
<path fill="#2c88dc" d="M148 200h3.4v3.4h-3.4z"/>
<path fill="#3080d4" d="M151 200h3.4v3.4h-3.4z"/>
<path fill="#2cacdc" d="M133 203h3.4v3.4h-3.4z"/>
<path fill="#2ca4e4" d="M136 203h3.4v3.4h-3.4z"/>
<path fill="#289cec" d="M139 203h3.4v3.4h-3.4z"/>
<path fill="#2894f0" d="M142 203h3.4v3.4h-3.4zM139 206h3.4v3.4h-3.4z"/>
<path fill="#2c88ec" d="M145 203h3.4v3.4h-3.4z"/>
<path fill="#2c80e4" d="M148 203h3.4v3.4h-3.4z"/>
<path fill="#3078dc" d="M151 203h3.4v3.4h-3.4z"/>
<path fill="#3070d8" d="M154 203h3.4v3.4h-3.4z"/>
<path fill="#2c9ce8" d="M136 206h3.4v3.4h-3.4z"/>
<path fill="#2888f0" d="M142 206h3.4v3.4h-3.4z"/>
<path fill="#2c80f0" d="M145 206h3.4v3.4h-3.4zM142 209h3.4v3.4h-3.4z"/>
<path fill="#2c78ec" d="M148 206h3.4v3.4h-3.4z"/>
<path fill="#3070e4" d="M151 206h3.4v3.4h-3.4z"/>
<path fill="#3068dc" d="M154 206h3.4v3.4h-3.4z"/>
<path fill="#3464d4" d="M157 206h3.4v3.4h-3.4z"/>
<path fill="#2c88f0" d="M139 209h3.4v3.4h-3.4z"/>
<path fill="#2c78f0" d="M145 209h3.4v3.4h-3.4zM142 212h3.4v3.4h-3.4z"/>
<path fill="#2c6cf0" d="M148 209h3.4v3.4h-3.4z"/>
<path fill="#3068e8" d="M151 209h3.4v3.4h-3.4z"/>
<path fill="#3060e0" d="M154 209h3.4v3.4h-3.4z"/>
<path fill="#345cd8" d="M157 209h3.4v3.4h-3.4z"/>
<path fill="#3458d0" d="M160 209h3.4v3.4h-3.4z"/>
<path fill="#3854c4" d="M163 209h3.4v3.4h-3.4z"/>
<path fill="#2c70f0" d="M145 212h3.4v3.4h-3.4z"/>
<path fill="#2c64f0" d="M148 212h3.4v3.4h-3.4z"/>
<path fill="#3060ec" d="M151 212h3.4v3.4h-3.4zM148 215h3.4v3.4h-3.4z"/>
<path fill="#305ce4" d="M154 212h3.4v3.4h-3.4z"/>
<path fill="#3458dc" d="M157 212h3.4v3.4h-3.4z"/>
<path fill="#3450d0" d="M160 212h3.4v3.4h-3.4z"/>
<path fill="#384cc8" d="M163 212h3.4v3.4h-3.4z"/>
<path fill="#384cbc" d="M166 212h3.4v3.4h-3.4z"/>
<path fill="#3068ec" d="M145 215h3.4v3.4h-3.4z"/>
<path fill="#305ce8" d="M151 215h3.4v3.4h-3.4zM148 218h3.4v3.4h-3.4z"/>
<path fill="#3454e4" d="M154 215h3.4v3.4h-3.4z"/>
<path fill="#3450dc" d="M157 215h3.4v3.4h-3.4z"/>
<path fill="#384cd4" d="M160 215h3.4v3.4h-3.4z"/>
<path fill="#3848c8" d="M163 215h3.4v3.4h-3.4z"/>
<path fill="#3844bc" d="M166 215h3.4v3.4h-3.4z"/>
<path fill="#3c40b4" d="M169 215h3.4v3.4h-3.4z"/>
<path fill="#3058e4" d="M151 218h3.4v3.4h-3.4z"/>
<path fill="#3450e0" d="M154 218h3.4v3.4h-3.4z"/>
<path fill="#344cdc" d="M157 218h3.4v3.4h-3.4zM154 221h3.4v3.4h-3.4z"/>
<path fill="#3848d4" d="M160 218h3.4v3.4h-3.4z"/>
<path fill="#3844c8" d="M163 218h3.4v3.4h-3.4z"/>
<path fill="#3840bc" d="M166 218h3.4v3.4h-3.4z"/>
<path fill="#3c3cb4" d="M169 218h3.4v3.4h-3.4z"/>
<path fill="#3c38a8" d="M172 218h3.4v3.4h-3.4z"/>
<path fill="#3c389c" d="M175 218h3.4v3.4h-3.4z"/>
<path fill="#3454e0" d="M151 221h3.4v3.4h-3.4z"/>
<path fill="#3848d8" d="M157 221h3.4v3.4h-3.4z"/>
<path fill="#3844d0" d="M160 221h3.4v3.4h-3.4zM157 224h3.4v3.4h-3.4z"/>
<path fill="#3840c4" d="M163 221h3.4v3.4h-3.4z"/>
<path fill="#3c3cbc" d="M166 221h3.4v3.4h-3.4z"/>
<path fill="#3c38b0" d="M169 221h3.4v3.4h-3.4z"/>
<path fill="#3c34a4" d="M172 221h3.4v3.4h-3.4z"/>
<path fill="#3c309c" d="M175 221h3.4v3.4h-3.4z"/>
<path fill="#3c3090" d="M178 221h3.4v3.4h-3.4z"/>
<path fill="#3448d8" d="M154 224h3.4v3.4h-3.4z"/>
<path fill="#3840c8" d="M160 224h3.4v3.4h-3.4z"/>
<path fill="#383cc0" d="M163 224h3.4v3.4h-3.4z"/>
<path fill="#3c38b8" d="M166 224h3.4v3.4h-3.4z"/>
<path fill="#3c34ac" d="M169 224h3.4v3.4h-3.4zM166 230h3.4v3.4h-3.4z"/>
<path fill="#3c30a0" d="M172 224h3.4v3.4h-3.4z"/>
<path fill="#3c2c98" d="M175 224h3.4v3.4h-3.4zM172 230h3.4v3.4h-3.4z"/>
<path fill="#3c2c8c" d="M178 224h3.4v3.4h-3.4z"/>
<path fill="#3c2884" d="M181 224h3.4v3.4h-3.4z"/>
<path fill="#3844cc" d="M157 227h3.4v3.4h-3.4z"/>
<path fill="#383cc4" d="M160 227h3.4v3.4h-3.4z"/>
<path fill="#3838bc" d="M163 227h3.4v3.4h-3.4z"/>
<path fill="#3c34b0" d="M166 227h3.4v3.4h-3.4z"/>
<path fill="#3c30a8" d="M169 227h3.4v3.4h-3.4z"/>
<path fill="#3c2c9c" d="M172 227h3.4v3.4h-3.4z"/>
<path fill="#3c2c94" d="M175 227h3.4v3.4h-3.4z"/>
<path fill="#3c2888" d="M178 227h3.4v3.4h-3.4z"/>
<path fill="#3c2480" d="M181 227h3.4v3.4h-3.4z"/>
<path fill="#3c2478" d="M184 227h3.4v3.4h-3.4z"/>
<path fill="#3c2074" d="M187 227h3.4v3.4h-3.4zM184 230h3.4v3.4h-3.4z"/>
<path fill="#3838b8" d="M163 230h3.4v3.4h-3.4z"/>
<path fill="#3c30a4" d="M169 230h3.4v3.4h-3.4z"/>
<path fill="#3c2890" d="M175 230h3.4v3.4h-3.4z"/>
<path fill="#3c2484" d="M178 230h3.4v3.4h-3.4z"/>
<path fill="#3c207c" d="M181 230h3.4v3.4h-3.4z"/>
<path fill="#381c70" d="M187 230h3.4v3.4h-3.4zM184 233h3.4v3.4h-3.4zM184 236h3.4v3.4h-3.4z"/>
<path fill="#381c6c" d="M190 230h3.4v3.4h-3.4zM187 233h3.4v3.4h-3.4z"/>
<path fill="#381c68" d="M193 230h3.4v3.4h-3.4z"/>
<path fill="#3c2ca0" d="M169 233h3.4v3.4h-3.4z"/>
<path fill="#3c2894" d="M172 233h3.4v3.4h-3.4z"/>
<path fill="#3c248c" d="M175 233h3.4v3.4h-3.4z"/>
<path fill="#3c2080" d="M178 233h3.4v3.4h-3.4zM178 236h3.4v3.4h-3.4z"/>
<path fill="#3c1c78" d="M181 233h3.4v3.4h-3.4z"/>
<path fill="#381868" d="M190 233h3.4v3.4h-3.4z"/>
<path fill="#341864" d="M193 233h3.4v3.4h-3.4zM190 236h3.4v3.4h-3.4z"/>
<path fill="#381c78" d="M181 236h3.4v3.4h-3.4z"/>
<path fill="#38186c" d="M187 236h3.4v3.4h-3.4z"/>
<path fill="#341460" d="M193 236h3.4v3.4h-3.4zM193 239h6.4v3.4h-6.4z"/>
<path fill="#341868" d="M187 239h3.4v3.4h-3.4z"/>
<path fill="#341464" d="M190 239h3.4v3.4h-3.4z"/></g></g>
<clipPath id="c3"><polygon points="90.5,150.4 92,148.1 98.1,142 105.8,135.9 118,128.3 127.1,122.2 136.3,123.7 151.5,125.3 168,126 168,128.3 159.1,132.9 148.5,140.5 136.3,146.6 121,152 110.3,155.8 101.2,154.2 98,149.5"/></clipPath><g clip-path="url(#c3)"><g filter="url(#bl)"><path fill="#20a4ac" d="M122 121h3.4v3.4h-3.4z"/>
<path fill="#20a4a8" d="M125 121h6.4v3.4h-6.4zM128 124h3.4v3.4h-3.4z"/>
<path fill="#20a4a4" d="M131 121h6.4v3.4h-6.4zM131 124h6.4v3.4h-6.4z"/>
<path fill="#20a4a0" d="M137 121h3.4v3.4h-3.4zM137 124h3.4v3.4h-3.4z"/>
<path fill="#20a49c" d="M140 121h3.4v3.4h-3.4zM140 124h6.4v3.4h-6.4zM143 127h3.4v3.4h-3.4z"/>
<path fill="#1ca8b0" d="M119 124h3.4v3.4h-3.4zM116 127h6.4v3.4h-6.4zM116 130h6.4v3.4h-6.4zM119 133h6.4v3.4h-6.4zM119 136h6.4v3.4h-6.4zM119 139h6.4v3.4h-6.4z"/>
<path fill="#1ca4ac" d="M122 124h6.4v3.4h-6.4z"/>
<path fill="#24a498" d="M146 124h3.4v3.4h-3.4zM146 127h3.4v3.4h-3.4zM146 130h3.4v3.4h-3.4z"/>
<path fill="#24a494" d="M149 124h3.4v3.4h-3.4zM149 127h3.4v3.4h-3.4zM149 130h3.4v3.4h-3.4z"/>
<path fill="#28a48c" d="M152 124h3.4v3.4h-3.4zM152 127h3.4v3.4h-3.4zM152 130h3.4v3.4h-3.4zM152 133h3.4v3.4h-3.4z"/>
<path fill="#2ca488" d="M155 124h3.4v3.4h-3.4zM155 127h3.4v3.4h-3.4zM155 133h3.4v3.4h-3.4z"/>
<path fill="#30a484" d="M158 124h3.4v3.4h-3.4zM158 133h3.4v3.4h-3.4z"/>
<path fill="#30a480" d="M161 124h9.4v3.4h-9.4zM158 127h3.4v3.4h-3.4zM158 130h3.4v3.4h-3.4z"/>
<path fill="#1ca8b4" d="M113 127h3.4v3.4h-3.4zM110 130h6.4v3.4h-6.4zM113 133h6.4v3.4h-6.4zM113 136h6.4v3.4h-6.4zM116 139h3.4v3.4h-3.4z"/>
<path fill="#1ca8ac" d="M122 127h6.4v3.4h-6.4zM122 130h6.4v3.4h-6.4zM125 133h3.4v3.4h-3.4zM125 136h3.4v3.4h-3.4zM125 139h3.4v3.4h-3.4z"/>
<path fill="#1ca8a8" d="M128 127h3.4v3.4h-3.4zM128 130h3.4v3.4h-3.4zM128 133h6.4v3.4h-6.4zM128 136h6.4v3.4h-6.4zM128 139h6.4v3.4h-6.4z"/>
<path fill="#20a8a8" d="M131 127h3.4v3.4h-3.4zM131 130h3.4v3.4h-3.4zM131 142h3.4v3.4h-3.4zM131 145h3.4v3.4h-3.4zM131 148h3.4v3.4h-3.4z"/>
<path fill="#20a8a4" d="M134 127h3.4v3.4h-3.4zM134 130h3.4v3.4h-3.4zM134 133h3.4v3.4h-3.4zM134 136h3.4v3.4h-3.4zM134 139h3.4v3.4h-3.4zM134 142h3.4v3.4h-3.4zM134 145h3.4v3.4h-3.4z"/>
<path fill="#20a8a0" d="M137 127h3.4v3.4h-3.4zM137 130h6.4v3.4h-6.4zM137 133h3.4v3.4h-3.4zM137 136h3.4v3.4h-3.4zM137 139h3.4v3.4h-3.4zM137 142h6.4v3.4h-6.4zM137 145h3.4v3.4h-3.4z"/>
<path fill="#20a89c" d="M140 127h3.4v3.4h-3.4zM143 130h3.4v3.4h-3.4zM140 133h6.4v3.4h-6.4zM140 136h3.4v3.4h-3.4zM140 139h3.4v3.4h-3.4z"/>
<path fill="#30a47c" d="M161 127h9.4v3.4h-9.4zM161 130h6.4v3.4h-6.4z"/>
<path fill="#2ca484" d="M155 130h3.4v3.4h-3.4z"/>
<path fill="#20a8bc" d="M104 133h3.4v3.4h-3.4zM101 136h6.4v3.4h-6.4zM101 139h9.4v3.4h-9.4zM104 142h6.4v3.4h-6.4zM104 145h6.4v3.4h-6.4zM107 148h3.4v3.4h-3.4zM107 151h3.4v3.4h-3.4zM107 154h3.4v3.4h-3.4z"/>
<path fill="#20a8b8" d="M107 133h3.4v3.4h-3.4zM107 136h3.4v3.4h-3.4zM110 139h3.4v3.4h-3.4zM110 142h6.4v3.4h-6.4zM110 145h6.4v3.4h-6.4zM110 148h6.4v3.4h-6.4zM110 151h6.4v3.4h-6.4zM110 154h6.4v3.4h-6.4z"/>
<path fill="#1ca8b8" d="M110 133h3.4v3.4h-3.4zM110 136h3.4v3.4h-3.4z"/>
<path fill="#24a898" d="M146 133h3.4v3.4h-3.4zM146 136h3.4v3.4h-3.4zM146 139h3.4v3.4h-3.4z"/>
<path fill="#28a894" d="M149 133h3.4v3.4h-3.4zM149 136h3.4v3.4h-3.4zM149 139h3.4v3.4h-3.4z"/>
<path fill="#24a89c" d="M143 136h3.4v3.4h-3.4zM143 139h3.4v3.4h-3.4zM143 142h3.4v3.4h-3.4z"/>
<path fill="#28a88c" d="M152 136h3.4v3.4h-3.4z"/>
<path fill="#20a8c0" d="M98 139h3.4v3.4h-3.4zM98 142h6.4v3.4h-6.4zM101 145h3.4v3.4h-3.4zM104 148h3.4v3.4h-3.4z"/>
<path fill="#20a8b4" d="M113 139h3.4v3.4h-3.4zM116 142h3.4v3.4h-3.4zM116 145h3.4v3.4h-3.4zM116 148h6.4v3.4h-6.4zM116 151h6.4v3.4h-6.4z"/>
<path fill="#20a4c0" d="M95 142h3.4v3.4h-3.4zM98 145h3.4v3.4h-3.4z"/>
<path fill="#20a8b0" d="M119 142h6.4v3.4h-6.4zM119 145h6.4v3.4h-6.4zM122 148h3.4v3.4h-3.4zM122 151h3.4v3.4h-3.4z"/>
<path fill="#20a8ac" d="M125 142h6.4v3.4h-6.4zM125 145h6.4v3.4h-6.4zM125 148h6.4v3.4h-6.4z"/>
<path fill="#24a4c4" d="M92 145h6.4v3.4h-6.4zM89 148h12.4v3.4h-12.4zM86 151h3.4v3.4h-3.4zM98 151h3.4v3.4h-3.4z"/>
<path fill="#24a4c0" d="M101 148h3.4v3.4h-3.4zM101 151h3.4v3.4h-3.4zM101 154h3.4v3.4h-3.4z"/>
<path fill="#24a8c0" d="M104 151h3.4v3.4h-3.4z"/>
<path fill="#24a8bc" d="M104 154h3.4v3.4h-3.4z"/></g></g>
<clipPath id="c4"><polygon points="31.1,188.5 40.3,182.4 55.5,172.5 70.8,162.5 83,154.9 92.1,151.1 99.7,149.6 106,153.5 104.3,156 101.3,156.4 93.6,158 86,159.5 78.4,161.8 70.8,167.1 63.1,174.7 55.5,181.6 43.3,187"/></clipPath><g clip-path="url(#c4)"><g filter="url(#bl)"><path fill="#2c90f8" d="M90 148h3.4v3.4h-3.4zM87 151h6.4v3.4h-6.4zM87 154h6.4v3.4h-6.4zM90 157h6.4v3.4h-6.4z"/>
<path fill="#2c94f8" d="M93 148h9.4v3.4h-9.4zM93 151h15.4v3.4h-15.4zM93 154h15.4v3.4h-15.4zM96 157h6.4v3.4h-6.4z"/>
<path fill="#2c8cf8" d="M84 151h3.4v3.4h-3.4zM87 157h3.4v3.4h-3.4z"/>
<path fill="#2888f8" d="M78 154h3.4v3.4h-3.4zM72 157h12.4v3.4h-12.4zM75 160h9.4v3.4h-9.4zM75 163h3.4v3.4h-3.4z"/>
<path fill="#288cf8" d="M81 154h6.4v3.4h-6.4zM84 157h3.4v3.4h-3.4zM84 160h3.4v3.4h-3.4z"/>
<path fill="#2884f8" d="M69 160h6.4v3.4h-6.4zM63 163h12.4v3.4h-12.4zM66 166h9.4v3.4h-9.4zM66 169h3.4v3.4h-3.4z"/>
<path fill="#2884f4" d="M60 166h6.4v3.4h-6.4zM57 169h9.4v3.4h-9.4zM60 172h6.4v3.4h-6.4zM60 175h3.4v3.4h-3.4z"/>
<path fill="#2880f4" d="M54 169h3.4v3.4h-3.4zM51 172h9.4v3.4h-9.4zM48 175h12.4v3.4h-12.4zM51 178h9.4v3.4h-9.4zM51 181h6.4v3.4h-6.4z"/>
<path fill="#2c80f4" d="M45 175h3.4v3.4h-3.4zM45 178h6.4v3.4h-6.4zM45 181h6.4v3.4h-6.4zM48 184h3.4v3.4h-3.4z"/>
<path fill="#2c80f0" d="M42 178h3.4v3.4h-3.4zM39 181h6.4v3.4h-6.4zM39 184h9.4v3.4h-9.4zM42 187h3.4v3.4h-3.4z"/>
<path fill="#2c7cf0" d="M36 181h3.4v3.4h-3.4zM33 184h6.4v3.4h-6.4zM27 187h15.4v3.4h-15.4z"/></g></g>
<clipPath id="c5"><polygon points="55.5,181.6 63.1,174.7 70.8,167.1 78.4,161.8 86,159.5 93.6,158 101.3,156.4 104.3,155.7 105.8,164.8 102.8,167.9 95.2,171.7 86,174 75.3,176.3 64.7,179.3 55.5,182.4"/></clipPath><g clip-path="url(#c5)"><g filter="url(#bl)"><path fill="#d0d044" d="M96 154h3.4v3.4h-3.4z"/>
<path fill="#a8cc60" d="M99 154h3.4v3.4h-3.4z"/>
<path fill="#88cc78" d="M102 154h3.4v3.4h-3.4z"/>
<path fill="#ece820" d="M81 157h3.4v3.4h-3.4z"/>
<path fill="#f4e424" d="M84 157h3.4v3.4h-3.4z"/>
<path fill="#f4e028" d="M87 157h3.4v3.4h-3.4z"/>
<path fill="#f4d82c" d="M90 157h3.4v3.4h-3.4z"/>
<path fill="#f4d430" d="M93 157h3.4v3.4h-3.4z"/>
<path fill="#c4d050" d="M96 157h3.4v3.4h-3.4z"/>
<path fill="#8ccc74" d="M99 157h3.4v3.4h-3.4z"/>
<path fill="#68c88c" d="M102 157h3.4v3.4h-3.4z"/>
<path fill="#54c49c" d="M105 157h3.4v3.4h-3.4z"/>
<path fill="#c8ec24" d="M75 160h3.4v3.4h-3.4z"/>
<path fill="#d0ec28" d="M78 160h3.4v3.4h-3.4z"/>
<path fill="#d8e82c" d="M81 160h3.4v3.4h-3.4z"/>
<path fill="#dce434" d="M84 160h3.4v3.4h-3.4z"/>
<path fill="#d4dc3c" d="M87 160h3.4v3.4h-3.4z"/>
<path fill="#ccd844" d="M90 160h3.4v3.4h-3.4z"/>
<path fill="#c8d04c" d="M93 160h3.4v3.4h-3.4z"/>
<path fill="#94cc6c" d="M96 160h3.4v3.4h-3.4z"/>
<path fill="#58c894" d="M99 160h3.4v3.4h-3.4z"/>
<path fill="#38c4ac" d="M102 160h3.4v3.4h-3.4z"/>
<path fill="#30c4b4" d="M105 160h3.4v3.4h-3.4z"/>
<path fill="#a8ec2c" d="M72 163h3.4v3.4h-3.4z"/>
<path fill="#acec2c" d="M75 163h3.4v3.4h-3.4z"/>
<path fill="#b0e834" d="M78 163h3.4v3.4h-3.4z"/>
<path fill="#b0e83c" d="M81 163h3.4v3.4h-3.4z"/>
<path fill="#ace048" d="M84 163h3.4v3.4h-3.4z"/>
<path fill="#a0dc5c" d="M87 163h3.4v3.4h-3.4z"/>
<path fill="#8cd46c" d="M90 163h3.4v3.4h-3.4z"/>
<path fill="#70d080" d="M93 163h3.4v3.4h-3.4z"/>
<path fill="#50cc98" d="M96 163h3.4v3.4h-3.4z"/>
<path fill="#2cc4b4" d="M99 163h3.4v3.4h-3.4z"/>
<path fill="#14c4c4" d="M102 163h3.4v3.4h-3.4z"/>
<path fill="#14c0c4" d="M105 163h3.4v3.4h-3.4z"/>
<path fill="#8cec34" d="M69 166h6.4v3.4h-6.4z"/>
<path fill="#8cec38" d="M75 166h3.4v3.4h-3.4z"/>
<path fill="#88e83c" d="M78 166h3.4v3.4h-3.4z"/>
<path fill="#84e44c" d="M81 166h3.4v3.4h-3.4z"/>
<path fill="#7cdc64" d="M84 166h3.4v3.4h-3.4z"/>
<path fill="#6cd47c" d="M87 166h3.4v3.4h-3.4z"/>
<path fill="#50d094" d="M90 166h3.4v3.4h-3.4z"/>
<path fill="#28ccac" d="M93 166h3.4v3.4h-3.4z"/>
<path fill="#1cc8b8" d="M96 166h3.4v3.4h-3.4z"/>
<path fill="#10c4c4" d="M99 166h3.4v3.4h-3.4z"/>
<path fill="#04c0d0" d="M102 166h3.4v3.4h-3.4z"/>
<path fill="#6ce458" d="M66 169h3.4v3.4h-3.4z"/>
<path fill="#70e844" d="M69 169h3.4v3.4h-3.4z"/>
<path fill="#6ce84c" d="M72 169h3.4v3.4h-3.4z"/>
<path fill="#68e84c" d="M75 169h3.4v3.4h-3.4z"/>
<path fill="#60e44c" d="M78 169h3.4v3.4h-3.4z"/>
<path fill="#5ce064" d="M81 169h3.4v3.4h-3.4z"/>
<path fill="#50d880" d="M84 169h3.4v3.4h-3.4z"/>
<path fill="#40d0a0" d="M87 169h3.4v3.4h-3.4z"/>
<path fill="#28ccb4" d="M90 169h3.4v3.4h-3.4z"/>
<path fill="#14c8c0" d="M93 169h3.4v3.4h-3.4z"/>
<path fill="#04c4cc" d="M96 169h3.4v3.4h-3.4z"/>
<path fill="#00c4d4" d="M99 169h3.4v3.4h-3.4z"/>
<path fill="#54d88c" d="M60 172h3.4v3.4h-3.4z"/>
<path fill="#50d888" d="M63 172h3.4v3.4h-3.4z"/>
<path fill="#4cdc80" d="M66 172h3.4v3.4h-3.4z"/>
<path fill="#48dc78" d="M69 172h3.4v3.4h-3.4z"/>
<path fill="#48e070" d="M72 172h3.4v3.4h-3.4z"/>
<path fill="#48e06c" d="M75 172h3.4v3.4h-3.4z"/>
<path fill="#44dc70" d="M78 172h3.4v3.4h-3.4z"/>
<path fill="#3cd880" d="M81 172h3.4v3.4h-3.4z"/>
<path fill="#30d498" d="M84 172h3.4v3.4h-3.4z"/>
<path fill="#20ccb4" d="M87 172h3.4v3.4h-3.4z"/>
<path fill="#10c8c8" d="M90 172h3.4v3.4h-3.4z"/>
<path fill="#00c4d0" d="M93 172h3.4v3.4h-3.4z"/>
<path fill="#44d0a8" d="M57 175h3.4v3.4h-3.4z"/>
<path fill="#3cd0a8" d="M60 175h3.4v3.4h-3.4z"/>
<path fill="#38d0a4" d="M63 175h3.4v3.4h-3.4z"/>
<path fill="#30d4a4" d="M66 175h3.4v3.4h-3.4z"/>
<path fill="#2cd4a0" d="M69 175h3.4v3.4h-3.4z"/>
<path fill="#2cd894" d="M72 175h3.4v3.4h-3.4z"/>
<path fill="#2cd88c" d="M75 175h3.4v3.4h-3.4z"/>
<path fill="#28d890" d="M78 175h3.4v3.4h-3.4z"/>
<path fill="#24d49c" d="M81 175h3.4v3.4h-3.4z"/>
<path fill="#38ccb4" d="M54 178h3.4v3.4h-3.4z"/>
<path fill="#34ccbc" d="M57 178h3.4v3.4h-3.4z"/>
<path fill="#2cc8c4" d="M60 178h3.4v3.4h-3.4zM54 181h3.4v3.4h-3.4z"/>
<path fill="#28ccc0" d="M63 178h3.4v3.4h-3.4z"/>
<path fill="#20ccb8" d="M66 178h3.4v3.4h-3.4z"/>
<path fill="#1cd0b4" d="M69 178h3.4v3.4h-3.4z"/>
<path fill="#28c8c8" d="M57 181h3.4v3.4h-3.4z"/></g></g>
<clipPath id="cm"><polygon points="31.1,188.5 40.3,182.4 55.5,172.5 70.8,162.5 83,154.9 90.5,150.4 92,148.1 98.1,142 105.8,135.9 118,128.3 127.1,122.2 136.3,123.7 151.5,125.3 168,126 174,122 184,115 193.4,110 201,104.3 208.6,98.6 216.3,92.9 223.9,88.4 230,85.9 233.2,84.3 239.1,83.7 245,85.6 252.9,91.6 258.9,99.5 263,107 267,116 270,120.8 273.9,132.7 277.9,144.5 278.9,150 283.8,157.9 285.8,162.9 282.8,167.8 272.9,175.7 259.1,185.6 245.3,196.5 236.8,206.9 222.9,217.7 209.1,228.6 196.2,240.5 182.6,237.4 166.8,231.5 152.9,222.6 143,212.7 135.1,202.8 127.2,192.9 121.3,185 119.6,183.1 111.9,174 105.8,164.8 102.8,167.9 95.2,171.7 86,174 75.3,176.3 64.7,179.3 55.5,182.4 43.3,187"/></clipPath>
<polygon points="80,158 86,140 120,112 180,108 177,125 170,129.5 158,128.5 149,127 147,125 130,133 107,143.5 84,154" fill="#3c9a50" fill-opacity="0.42" clip-path="url(#cm)"/>
<polygon points="40,172.5 48,167.5 65,158 82.9,149.7 105.8,139 128.6,128.3 145.4,120.7 159.1,113.8 161.6,108.1 171.8,101.8 181.9,94.8 190.8,89.7 199.7,85.3 208.6,80.8 216.3,77 218,80.5 210,84.5 201,89 192,93.5 183,99 173,106 165,112 160,118 147,125 130,133 107,143.5 84,154 67,162.5 50,171.5" fill="#2a8a3c" fill-opacity="0.45"/>
<circle cx="82.3" cy="144.2" r="1.7" fill="#fff"/>
<circle cx="82.9" cy="156.9" r="1.7" fill="#fff"/>
<circle cx="82.9" cy="168.9" r="1.7" fill="#fff"/>
<circle cx="127.3" cy="121.5" r="1.7" fill="#fff"/>
<circle cx="179.2" cy="120.7" r="1.7" fill="#fff"/>
<circle cx="179.2" cy="132.1" r="1.7" fill="#fff"/>
<circle cx="233.6" cy="73.4" r="1.7" fill="#fff"/>
<circle cx="195.8" cy="241.9" r="1.7" fill="#fff"/>
</g>
<g id="bars">
<rect x="357.5" y="17.5" width="195.4" height="35.5" fill="#bfbf00" stroke="#000" stroke-width="1"/>
<rect x="357.5" y="62" width="120.4" height="35.5" fill="#008000" stroke="#000" stroke-width="1"/>
<rect x="357.5" y="106.4" width="64.9" height="35.5" fill="#00bfbf" stroke="#000" stroke-width="1"/>
<rect x="357.5" y="150.8" width="31.2" height="35.5" fill="#0000ff" stroke="#000" stroke-width="1"/>
<rect x="357.5" y="195.3" width="19.6" height="35.5" fill="#0000ff" stroke="#000" stroke-width="1"/>
<rect x="357.5" y="239.7" width="11" height="35.5" fill="#0000ff" stroke="#000" stroke-width="1"/>
<path d="M425.9 13.5V279.3M494.3 13.5V279.3M562.7 13.5V279.3M631.1 13.5V279.3" stroke="#000" stroke-opacity="0.4" stroke-width="0.5" stroke-dasharray="1 2.6" fill="none"/>
<path d="M357.5 35.3H699.5M357.5 79.7H699.5M357.5 124.2H699.5M357.5 168.6H699.5M357.5 213H699.5M357.5 257.4H699.5" stroke="#000" stroke-opacity="0.7" stroke-width="0.5" stroke-dasharray="1 2.6" fill="none"/>
<path d="M425.9 279.3v-3.5M425.9 13.5v3.5M494.3 279.3v-3.5M494.3 13.5v3.5M562.7 279.3v-3.5M562.7 13.5v3.5M631.1 279.3v-3.5M631.1 13.5v3.5M357.5 35.3h3.5M699.5 35.3h-3.5M357.5 79.7h3.5M699.5 79.7h-3.5M357.5 124.2h3.5M699.5 124.2h-3.5M357.5 168.6h3.5M699.5 168.6h-3.5M357.5 213h3.5M699.5 213h-3.5M357.5 257.4h3.5M699.5 257.4h-3.5" stroke="#000" stroke-width="0.6" fill="none"/>
<rect x="357.5" y="13.5" width="342.0" height="265.8" fill="none" stroke="#000" stroke-width="1"/>
<text x="352.5" y="38.6" font-size="9" text-anchor="end" fill="#000" stroke="#000" stroke-width="0.22">in26</text>
<text x="556.4" y="38.6" font-size="9" fill="#000" stroke="#000" stroke-width="0.22">0.57</text>
<text x="352.5" y="83" font-size="9" text-anchor="end" fill="#000" stroke="#000" stroke-width="0.22">in5</text>
<text x="481.4" y="83" font-size="9" fill="#000" stroke="#000" stroke-width="0.22">0.35</text>
<text x="352.5" y="127.5" font-size="9" text-anchor="end" fill="#000" stroke="#000" stroke-width="0.22">in23</text>
<text x="425.9" y="127.5" font-size="9" fill="#000" stroke="#000" stroke-width="0.22">0.19</text>
<text x="352.5" y="171.9" font-size="9" text-anchor="end" fill="#000" stroke="#000" stroke-width="0.22">in4</text>
<text x="392.2" y="171.9" font-size="9" fill="#000" stroke="#000" stroke-width="0.22">0.09</text>
<text x="352.5" y="216.3" font-size="9" text-anchor="end" fill="#000" stroke="#000" stroke-width="0.22">in27</text>
<text x="380.6" y="216.3" font-size="9" fill="#000" stroke="#000" stroke-width="0.22">0.06</text>
<text x="352.5" y="260.8" font-size="9" text-anchor="end" fill="#000" stroke="#000" stroke-width="0.22">in9</text>
<text x="372" y="260.8" font-size="9" fill="#000" stroke="#000" stroke-width="0.22">0.03</text>
<text x="358.4" y="292.8" font-size="9" text-anchor="middle" fill="#000" stroke="#000" stroke-width="0.22">0.0</text>
<text x="426.8" y="292.8" font-size="9" text-anchor="middle" fill="#000" stroke="#000" stroke-width="0.22">0.2</text>
<text x="495.2" y="292.8" font-size="9" text-anchor="middle" fill="#000" stroke="#000" stroke-width="0.22">0.4</text>
<text x="563.6" y="292.8" font-size="9" text-anchor="middle" fill="#000" stroke="#000" stroke-width="0.22">0.6</text>
<text x="632" y="292.8" font-size="9" text-anchor="middle" fill="#000" stroke="#000" stroke-width="0.22">0.8</text>
<text x="700.4" y="292.8" font-size="9" text-anchor="middle" fill="#000" stroke="#000" stroke-width="0.22">1.0</text>
<text x="529.5" y="9.9" font-size="11" text-anchor="middle" fill="#000" stroke="#000" stroke-width="0.22">Prognosis Quality for out9 = 0.73</text>
<text x="528" y="312" font-size="10.7" text-anchor="middle" fill="#000" stroke="#000" stroke-width="0.22">Importance</text>
</g>
</svg>
</body></html>
